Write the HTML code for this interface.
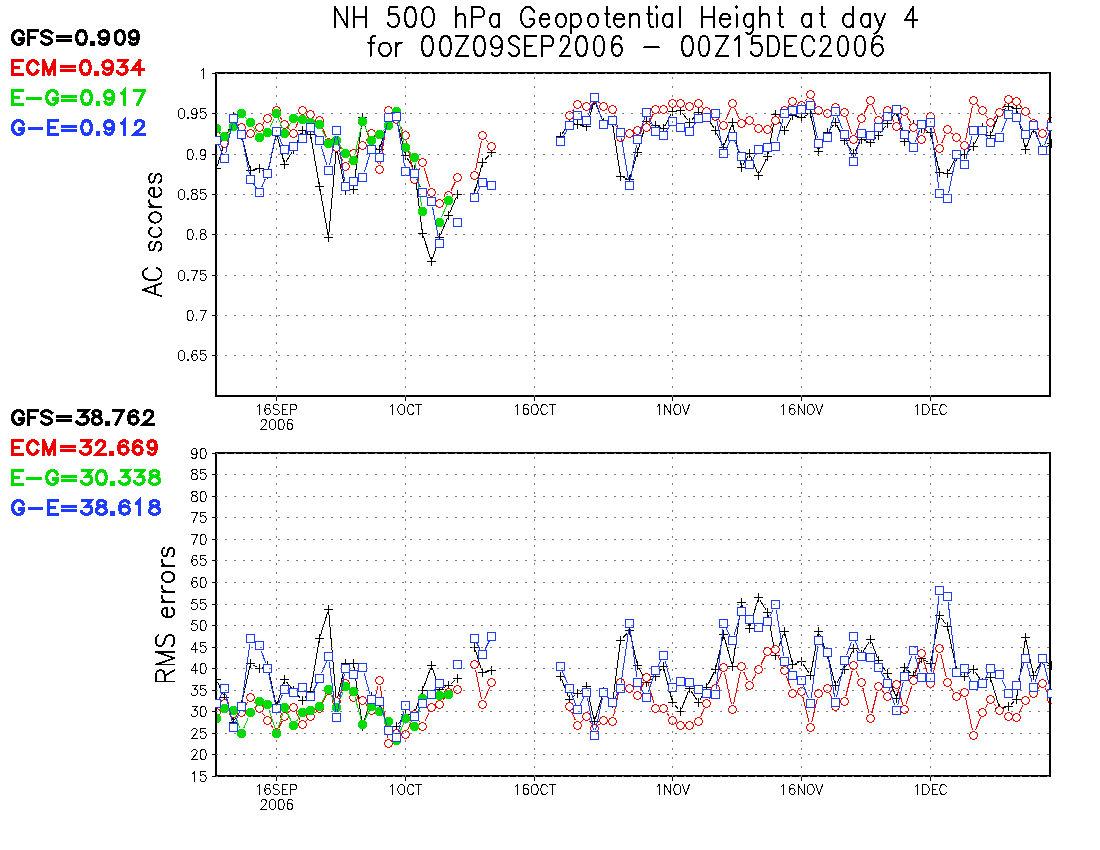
<!DOCTYPE html><html><head><meta charset="utf-8"><title>NH 500 hPa Geopotential Height</title>
<style>html,body{margin:0;padding:0;background:#fff;font-family:"Liberation Sans",sans-serif}svg{display:block}.t{fill:none;stroke-linecap:round;stroke-linejoin:round;shape-rendering:crispEdges}</style></head><body>
<svg width="1100" height="850" viewBox="0 0 1100 850">
<rect width="1100" height="850" fill="#fff"/>
<path class="t" d="M335.00 7.00 L335.00 27.00 M335.00 7.00 L347.00 27.00 M347.00 7.00 L347.00 27.00 M354.00 7.00 L354.00 27.00 M366.00 7.00 L366.00 27.00 M354.00 16.52 L366.00 16.52 M397.43 7.00 L389.57 7.00 L388.79 15.57 L389.57 14.62 L391.93 13.67 L394.29 13.67 L396.64 14.62 L398.21 16.52 L399.00 19.38 L399.00 21.29 L398.21 24.14 L396.64 26.05 L394.29 27.00 L391.93 27.00 L389.57 26.05 L388.79 25.10 L388.00 23.19 M409.71 7.00 L407.36 7.95 L405.79 10.81 L405.00 15.57 L405.00 18.43 L405.79 23.19 L407.36 26.05 L409.71 27.00 L411.29 27.00 L413.64 26.05 L415.21 23.19 L416.00 18.43 L416.00 15.57 L415.21 10.81 L413.64 7.95 L411.29 7.00 L409.71 7.00 M427.14 7.00 L424.57 7.95 L422.86 10.81 L422.00 15.57 L422.00 18.43 L422.86 23.19 L424.57 26.05 L427.14 27.00 L428.86 27.00 L431.43 26.05 L433.14 23.19 L434.00 18.43 L434.00 15.57 L433.14 10.81 L431.43 7.95 L428.86 7.00 L427.14 7.00 M456.00 7.00 L456.00 27.00 M456.00 17.48 L458.45 14.62 L460.09 13.67 L462.55 13.67 L464.18 14.62 L465.00 17.48 L465.00 27.00 M472.00 7.00 L472.00 27.00 M472.00 7.00 L479.71 7.00 L482.29 7.95 L483.14 8.90 L484.00 10.81 L484.00 13.67 L483.14 15.57 L482.29 16.52 L479.71 17.48 L472.00 17.48 M499.00 13.67 L499.00 27.00 M499.00 16.52 L497.50 14.62 L496.00 13.67 L493.75 13.67 L492.25 14.62 L490.75 16.52 L490.00 19.38 L490.00 21.29 L490.75 24.14 L492.25 26.05 L493.75 27.00 L496.00 27.00 L497.50 26.05 L499.00 24.14 M534.00 11.76 L533.13 9.86 L531.40 7.95 L529.67 7.00 L526.20 7.00 L524.47 7.95 L522.73 9.86 L521.87 11.76 L521.00 14.62 L521.00 19.38 L521.87 22.24 L522.73 24.14 L524.47 26.05 L526.20 27.00 L529.67 27.00 L531.40 26.05 L533.13 24.14 L534.00 22.24 L534.00 19.38 M529.67 19.38 L534.00 19.38 M540.00 19.38 L549.00 19.38 L549.00 17.48 L548.25 15.57 L547.50 14.62 L546.00 13.67 L543.75 13.67 L542.25 14.62 L540.75 16.52 L540.00 19.38 L540.00 21.29 L540.75 24.14 L542.25 26.05 L543.75 27.00 L546.00 27.00 L547.50 26.05 L549.00 24.14 M559.85 13.67 L558.31 14.62 L556.77 16.52 L556.00 19.38 L556.00 21.29 L556.77 24.14 L558.31 26.05 L559.85 27.00 L562.15 27.00 L563.69 26.05 L565.23 24.14 L566.00 21.29 L566.00 19.38 L565.23 16.52 L563.69 14.62 L562.15 13.67 L559.85 13.67 M571.00 13.67 L571.00 33.67 M571.00 16.52 L572.67 14.62 L574.33 13.67 L576.83 13.67 L578.50 14.62 L580.17 16.52 L581.00 19.38 L581.00 21.29 L580.17 24.14 L578.50 26.05 L576.83 27.00 L574.33 27.00 L572.67 26.05 L571.00 24.14 M591.85 13.67 L590.31 14.62 L588.77 16.52 L588.00 19.38 L588.00 21.29 L588.77 24.14 L590.31 26.05 L591.85 27.00 L594.15 27.00 L595.69 26.05 L597.23 24.14 L598.00 21.29 L598.00 19.38 L597.23 16.52 L595.69 14.62 L594.15 13.67 L591.85 13.67 M606.88 7.00 L606.88 23.19 L607.50 26.05 L608.75 27.00 L610.00 27.00 M605.00 13.67 L609.38 13.67 M614.00 19.38 L624.00 19.38 L624.00 17.48 L623.17 15.57 L622.33 14.62 L620.67 13.67 L618.17 13.67 L616.50 14.62 L614.83 16.52 L614.00 19.38 L614.00 21.29 L614.83 24.14 L616.50 26.05 L618.17 27.00 L620.67 27.00 L622.33 26.05 L624.00 24.14 M630.00 13.67 L630.00 27.00 M630.00 17.48 L632.45 14.62 L634.09 13.67 L636.55 13.67 L638.18 14.62 L639.00 17.48 L639.00 27.00 M649.25 7.00 L649.25 23.19 L650.00 26.05 L651.50 27.00 L653.00 27.00 M647.00 13.67 L652.25 13.67 M656.00 7.00 L656.50 7.95 L657.00 7.00 L656.50 6.05 L656.00 7.00 M656.50 13.67 L656.50 27.00 M672.00 13.67 L672.00 27.00 M672.00 16.52 L670.50 14.62 L669.00 13.67 L666.75 13.67 L665.25 14.62 L663.75 16.52 L663.00 19.38 L663.00 21.29 L663.75 24.14 L665.25 26.05 L666.75 27.00 L669.00 27.00 L670.50 26.05 L672.00 24.14 M680.00 7.00 L680.00 27.00 M702.00 7.00 L702.00 27.00 M714.00 7.00 L714.00 27.00 M702.00 16.52 L714.00 16.52 M720.00 19.38 L730.00 19.38 L730.00 17.48 L729.17 15.57 L728.33 14.62 L726.67 13.67 L724.17 13.67 L722.50 14.62 L720.83 16.52 L720.00 19.38 L720.00 21.29 L720.83 24.14 L722.50 26.05 L724.17 27.00 L726.67 27.00 L728.33 26.05 L730.00 24.14 M736.00 7.00 L736.50 7.95 L737.00 7.00 L736.50 6.05 L736.00 7.00 M736.50 13.67 L736.50 27.00 M753.00 13.67 L753.00 28.90 L752.25 31.76 L751.50 32.71 L750.00 33.67 L747.75 33.67 L746.25 32.71 M753.00 16.52 L751.50 14.62 L750.00 13.67 L747.75 13.67 L746.25 14.62 L744.75 16.52 L744.00 19.38 L744.00 21.29 L744.75 24.14 L746.25 26.05 L747.75 27.00 L750.00 27.00 L751.50 26.05 L753.00 24.14 M760.00 7.00 L760.00 27.00 M760.00 17.48 L762.45 14.62 L764.09 13.67 L766.55 13.67 L768.18 14.62 L769.00 17.48 L769.00 27.00 M779.88 7.00 L779.88 23.19 L780.50 26.05 L781.75 27.00 L783.00 27.00 M778.00 13.67 L782.38 13.67 M811.00 13.67 L811.00 27.00 M811.00 16.52 L809.50 14.62 L808.00 13.67 L805.75 13.67 L804.25 14.62 L802.75 16.52 L802.00 19.38 L802.00 21.29 L802.75 24.14 L804.25 26.05 L805.75 27.00 L808.00 27.00 L809.50 26.05 L811.00 24.14 M821.88 7.00 L821.88 23.19 L822.50 26.05 L823.75 27.00 L825.00 27.00 M820.00 13.67 L824.38 13.67 M853.00 7.00 L853.00 27.00 M853.00 16.52 L851.33 14.62 L849.67 13.67 L847.17 13.67 L845.50 14.62 L843.83 16.52 L843.00 19.38 L843.00 21.29 L843.83 24.14 L845.50 26.05 L847.17 27.00 L849.67 27.00 L851.33 26.05 L853.00 24.14 M870.00 13.67 L870.00 27.00 M870.00 16.52 L868.50 14.62 L867.00 13.67 L864.75 13.67 L863.25 14.62 L861.75 16.52 L861.00 19.38 L861.00 21.29 L861.75 24.14 L863.25 26.05 L864.75 27.00 L867.00 27.00 L868.50 26.05 L870.00 24.14 M874.85 13.67 L879.92 27.00 M885.00 13.67 L879.92 27.00 L878.23 30.81 L876.54 32.71 L874.85 33.67 L874.00 33.67 M913.00 7.00 L905.00 20.33 L917.00 20.33 M913.00 7.00 L913.00 27.00" stroke="#000" stroke-width="2.0"/>
<path class="t" d="M375.00 36.00 L373.25 36.00 L371.50 36.95 L370.62 39.81 L370.62 56.00 M368.00 42.67 L374.12 42.67 M383.62 42.67 L381.77 43.62 L379.92 45.52 L379.00 48.38 L379.00 50.29 L379.92 53.14 L381.77 55.05 L383.62 56.00 L386.38 56.00 L388.23 55.05 L390.08 53.14 L391.00 50.29 L391.00 48.38 L390.08 45.52 L388.23 43.62 L386.38 42.67 L383.62 42.67 M396.00 42.67 L396.00 56.00 M396.00 48.38 L396.75 45.52 L398.25 43.62 L399.75 42.67 L402.00 42.67 M426.71 36.00 L424.36 36.95 L422.79 39.81 L422.00 44.57 L422.00 47.43 L422.79 52.19 L424.36 55.05 L426.71 56.00 L428.29 56.00 L430.64 55.05 L432.21 52.19 L433.00 47.43 L433.00 44.57 L432.21 39.81 L430.64 36.95 L428.29 36.00 L426.71 36.00 M444.71 36.00 L442.36 36.95 L440.79 39.81 L440.00 44.57 L440.00 47.43 L440.79 52.19 L442.36 55.05 L444.71 56.00 L446.29 56.00 L448.64 55.05 L450.21 52.19 L451.00 47.43 L451.00 44.57 L450.21 39.81 L448.64 36.95 L446.29 36.00 L444.71 36.00 M468.00 36.00 L456.00 56.00 M456.00 36.00 L468.00 36.00 M456.00 56.00 L468.00 56.00 M478.71 36.00 L476.36 36.95 L474.79 39.81 L474.00 44.57 L474.00 47.43 L474.79 52.19 L476.36 55.05 L478.71 56.00 L480.29 56.00 L482.64 55.05 L484.21 52.19 L485.00 47.43 L485.00 44.57 L484.21 39.81 L482.64 36.95 L480.29 36.00 L478.71 36.00 M502.00 42.67 L501.15 45.52 L499.46 47.43 L496.92 48.38 L496.08 48.38 L493.54 47.43 L491.85 45.52 L491.00 42.67 L491.00 41.71 L491.85 38.86 L493.54 36.95 L496.08 36.00 L496.92 36.00 L499.46 36.95 L501.15 38.86 L502.00 42.67 L502.00 47.43 L501.15 52.19 L499.46 55.05 L496.92 56.00 L495.23 56.00 L492.69 55.05 L491.85 53.14 M519.00 38.86 L517.57 36.95 L515.43 36.00 L512.57 36.00 L510.43 36.95 L509.00 38.86 L509.00 40.76 L509.71 42.67 L510.43 43.62 L511.86 44.57 L516.14 46.48 L517.57 47.43 L518.29 48.38 L519.00 50.29 L519.00 53.14 L517.57 55.05 L515.43 56.00 L512.57 56.00 L510.43 55.05 L509.00 53.14 M525.00 36.00 L525.00 56.00 M525.00 36.00 L536.00 36.00 M525.00 45.52 L531.77 45.52 M525.00 56.00 L536.00 56.00 M542.00 36.00 L542.00 56.00 M542.00 36.00 L549.07 36.00 L551.43 36.95 L552.21 37.90 L553.00 39.81 L553.00 42.67 L552.21 44.57 L551.43 45.52 L549.07 46.48 L542.00 46.48 M560.71 40.76 L560.71 39.81 L561.43 37.90 L562.14 36.95 L563.57 36.00 L566.43 36.00 L567.86 36.95 L568.57 37.90 L569.29 39.81 L569.29 41.71 L568.57 43.62 L567.14 46.48 L560.00 56.00 L570.00 56.00 M580.71 36.00 L578.36 36.95 L576.79 39.81 L576.00 44.57 L576.00 47.43 L576.79 52.19 L578.36 55.05 L580.71 56.00 L582.29 56.00 L584.64 55.05 L586.21 52.19 L587.00 47.43 L587.00 44.57 L586.21 39.81 L584.64 36.95 L582.29 36.00 L580.71 36.00 M598.29 36.00 L596.14 36.95 L594.71 39.81 L594.00 44.57 L594.00 47.43 L594.71 52.19 L596.14 55.05 L598.29 56.00 L599.71 56.00 L601.86 55.05 L603.29 52.19 L604.00 47.43 L604.00 44.57 L603.29 39.81 L601.86 36.95 L599.71 36.00 L598.29 36.00 M621.23 38.86 L620.46 36.95 L618.15 36.00 L616.62 36.00 L614.31 36.95 L612.77 39.81 L612.00 44.57 L612.00 49.33 L612.77 53.14 L614.31 55.05 L616.62 56.00 L617.38 56.00 L619.69 55.05 L621.23 53.14 L622.00 50.29 L622.00 49.33 L621.23 46.48 L619.69 44.57 L617.38 43.62 L616.62 43.62 L614.31 44.57 L612.77 46.48 L612.00 49.33 M644.00 47.43 L659.00 47.43 M686.71 36.00 L684.36 36.95 L682.79 39.81 L682.00 44.57 L682.00 47.43 L682.79 52.19 L684.36 55.05 L686.71 56.00 L688.29 56.00 L690.64 55.05 L692.21 52.19 L693.00 47.43 L693.00 44.57 L692.21 39.81 L690.64 36.95 L688.29 36.00 L686.71 36.00 M703.29 36.00 L701.14 36.95 L699.71 39.81 L699.00 44.57 L699.00 47.43 L699.71 52.19 L701.14 55.05 L703.29 56.00 L704.71 56.00 L706.86 55.05 L708.29 52.19 L709.00 47.43 L709.00 44.57 L708.29 39.81 L706.86 36.95 L704.71 36.00 L703.29 36.00 M728.00 36.00 L716.00 56.00 M716.00 36.00 L728.00 36.00 M716.00 56.00 L728.00 56.00 M735.00 39.81 L736.60 38.86 L739.00 36.00 L739.00 56.00 M760.43 36.00 L752.57 36.00 L751.79 44.57 L752.57 43.62 L754.93 42.67 L757.29 42.67 L759.64 43.62 L761.21 45.52 L762.00 48.38 L762.00 50.29 L761.21 53.14 L759.64 55.05 L757.29 56.00 L754.93 56.00 L752.57 55.05 L751.79 54.10 L751.00 52.19 M768.00 36.00 L768.00 56.00 M768.00 36.00 L773.50 36.00 L775.86 36.95 L777.43 38.86 L778.21 40.76 L779.00 43.62 L779.00 48.38 L778.21 51.24 L777.43 53.14 L775.86 55.05 L773.50 56.00 L768.00 56.00 M785.00 36.00 L785.00 56.00 M785.00 36.00 L796.00 36.00 M785.00 45.52 L791.77 45.52 M785.00 56.00 L796.00 56.00 M814.00 40.76 L813.20 38.86 L811.60 36.95 L810.00 36.00 L806.80 36.00 L805.20 36.95 L803.60 38.86 L802.80 40.76 L802.00 43.62 L802.00 48.38 L802.80 51.24 L803.60 53.14 L805.20 55.05 L806.80 56.00 L810.00 56.00 L811.60 55.05 L813.20 53.14 L814.00 51.24 M820.79 40.76 L820.79 39.81 L821.57 37.90 L822.36 36.95 L823.93 36.00 L827.07 36.00 L828.64 36.95 L829.43 37.90 L830.21 39.81 L830.21 41.71 L829.43 43.62 L827.86 46.48 L820.00 56.00 L831.00 56.00 M842.29 36.00 L840.14 36.95 L838.71 39.81 L838.00 44.57 L838.00 47.43 L838.71 52.19 L840.14 55.05 L842.29 56.00 L843.71 56.00 L845.86 55.05 L847.29 52.19 L848.00 47.43 L848.00 44.57 L847.29 39.81 L845.86 36.95 L843.71 36.00 L842.29 36.00 M859.29 36.00 L857.14 36.95 L855.71 39.81 L855.00 44.57 L855.00 47.43 L855.71 52.19 L857.14 55.05 L859.29 56.00 L860.71 56.00 L862.86 55.05 L864.29 52.19 L865.00 47.43 L865.00 44.57 L864.29 39.81 L862.86 36.95 L860.71 36.00 L859.29 36.00 M882.15 38.86 L881.31 36.95 L878.77 36.00 L877.08 36.00 L874.54 36.95 L872.85 39.81 L872.00 44.57 L872.00 49.33 L872.85 53.14 L874.54 55.05 L877.08 56.00 L877.92 56.00 L880.46 55.05 L882.15 53.14 L883.00 50.29 L883.00 49.33 L882.15 46.48 L880.46 44.57 L877.92 43.62 L877.08 43.62 L874.54 44.57 L872.85 46.48 L872.00 49.33" stroke="#000" stroke-width="2.0"/>
<rect x="89.9" y="41.3" width="4.9" height="4.6" fill="#000" shape-rendering="crispEdges"/>
<path d="M23.35 33.96 L22.64 32.68 L21.21 31.39 L19.78 30.75 L16.93 30.75 L15.50 31.39 L14.08 32.68 L13.36 33.96 L12.65 35.89 L12.65 39.11 L13.36 41.04 L14.08 42.32 L15.50 43.61 L16.93 44.25 L19.78 44.25 L21.21 43.61 L22.64 42.32 L23.35 41.04 L23.35 39.11 M19.78 39.11 L23.35 39.11 M28.65 30.75 L28.65 44.25 M28.65 30.75 L37.15 30.75 M28.65 37.18 L33.88 37.18 M51.35 32.68 L49.98 31.39 L47.92 30.75 L45.18 30.75 L43.12 31.39 L41.75 32.68 L41.75 33.96 L42.44 35.25 L43.12 35.89 L44.49 36.54 L48.61 37.82 L49.98 38.46 L50.66 39.11 L51.35 40.39 L51.35 42.32 L49.98 43.61 L47.92 44.25 L45.18 44.25 L43.12 43.61 L41.75 42.32 M57.75 36.54 L70.25 36.54 M57.75 40.39 L70.25 40.39 M80.76 30.75 L78.71 31.39 L77.34 33.32 L76.65 36.54 L76.65 38.46 L77.34 41.68 L78.71 43.61 L80.76 44.25 L82.14 44.25 L84.19 43.61 L85.56 41.68 L86.25 38.46 L86.25 36.54 L85.56 33.32 L84.19 31.39 L82.14 30.75 L80.76 30.75 M108.45 35.25 L107.71 37.18 L106.23 38.46 L104.02 39.11 L103.28 39.11 L101.07 38.46 L99.59 37.18 L98.85 35.25 L98.85 34.61 L99.59 32.68 L101.07 31.39 L103.28 30.75 L104.02 30.75 L106.23 31.39 L107.71 32.68 L108.45 35.25 L108.45 38.46 L107.71 41.68 L106.23 43.61 L104.02 44.25 L102.54 44.25 L100.33 43.61 L99.59 42.32 M119.19 30.75 L117.22 31.39 L115.91 33.32 L115.25 36.54 L115.25 38.46 L115.91 41.68 L117.22 43.61 L119.19 44.25 L120.51 44.25 L122.48 43.61 L123.79 41.68 L124.45 38.46 L124.45 36.54 L123.79 33.32 L122.48 31.39 L120.51 30.75 L119.19 30.75 M138.25 35.25 L137.57 37.18 L136.20 38.46 L134.14 39.11 L133.46 39.11 L131.40 38.46 L130.03 37.18 L129.35 35.25 L129.35 34.61 L130.03 32.68 L131.40 31.39 L133.46 30.75 L134.14 30.75 L136.20 31.39 L137.57 32.68 L138.25 35.25 L138.25 38.46 L137.57 41.68 L136.20 43.61 L134.14 44.25 L132.77 44.25 L130.72 43.61 L130.03 42.32" fill="none" stroke="#000" stroke-width="3.25" stroke-linecap="square" stroke-linejoin="miter" shape-rendering="crispEdges"/>
<rect x="93.9" y="71.3" width="5.2" height="4.6" fill="#ee0000" shape-rendering="crispEdges"/>
<path d="M12.65 60.75 L12.65 74.25 M12.65 60.75 L22.25 60.75 M12.65 67.18 L18.56 67.18 M12.65 74.25 L22.25 74.25 M37.55 63.96 L36.90 62.68 L35.59 61.39 L34.28 60.75 L31.67 60.75 L30.36 61.39 L29.06 62.68 L28.40 63.96 L27.75 65.89 L27.75 69.11 L28.40 71.04 L29.06 72.32 L30.36 73.61 L31.67 74.25 L34.28 74.25 L35.59 73.61 L36.90 72.32 L37.55 71.04 M43.75 60.75 L43.75 74.25 M43.75 60.75 L49.00 74.25 M54.25 60.75 L49.00 74.25 M54.25 60.75 L54.25 74.25 M61.75 66.54 L74.25 66.54 M61.75 70.39 L74.25 70.39 M84.76 60.75 L82.71 61.39 L81.34 63.32 L80.65 66.54 L80.65 68.46 L81.34 71.68 L82.71 73.61 L84.76 74.25 L86.14 74.25 L88.19 73.61 L89.56 71.68 L90.25 68.46 L90.25 66.54 L89.56 63.32 L88.19 61.39 L86.14 60.75 L84.76 60.75 M112.45 65.25 L111.71 67.18 L110.23 68.46 L108.02 69.11 L107.28 69.11 L105.07 68.46 L103.59 67.18 L102.85 65.25 L102.85 64.61 L103.59 62.68 L105.07 61.39 L107.28 60.75 L108.02 60.75 L110.23 61.39 L111.71 62.68 L112.45 65.25 L112.45 68.46 L111.71 71.68 L110.23 73.61 L108.02 74.25 L106.54 74.25 L104.33 73.61 L103.59 72.32 M119.06 60.75 L126.29 60.75 L122.35 65.89 L124.32 65.89 L125.64 66.54 L126.29 67.18 L126.95 69.11 L126.95 70.39 L126.29 72.32 L124.98 73.61 L123.01 74.25 L121.04 74.25 L119.06 73.61 L118.41 72.96 L117.75 71.68 M139.52 60.75 L132.65 69.75 L142.95 69.75 M139.52 60.75 L139.52 74.25" fill="none" stroke="#ee0000" stroke-width="3.25" stroke-linecap="square" stroke-linejoin="miter" shape-rendering="crispEdges"/>
<rect x="96.1" y="101.3" width="3.8" height="4.6" fill="#00dc00" shape-rendering="crispEdges"/>
<path d="M12.65 90.75 L12.65 104.25 M12.65 90.75 L22.25 90.75 M12.65 97.18 L18.56 97.18 M12.65 104.25 L22.25 104.25 M27.75 98.46 L40.25 98.46 M57.15 93.96 L56.46 92.68 L55.09 91.39 L53.72 90.75 L50.97 90.75 L49.60 91.39 L48.22 92.68 L47.54 93.96 L46.85 95.89 L46.85 99.11 L47.54 101.04 L48.22 102.32 L49.60 103.61 L50.97 104.25 L53.72 104.25 L55.09 103.61 L56.46 102.32 L57.15 101.04 L57.15 99.11 M53.72 99.11 L57.15 99.11 M62.85 96.54 L75.35 96.54 M62.85 100.39 L75.35 100.39 M85.86 90.75 L83.81 91.39 L82.44 93.32 L81.75 96.54 L81.75 98.46 L82.44 101.68 L83.81 103.61 L85.86 104.25 L87.24 104.25 L89.29 103.61 L90.66 101.68 L91.35 98.46 L91.35 96.54 L90.66 93.32 L89.29 91.39 L87.24 90.75 L85.86 90.75 M113.35 95.25 L112.68 97.18 L111.34 98.46 L109.33 99.11 L108.67 99.11 L106.66 98.46 L105.32 97.18 L104.65 95.25 L104.65 94.61 L105.32 92.68 L106.66 91.39 L108.67 90.75 L109.33 90.75 L111.34 91.39 L112.68 92.68 L113.35 95.25 L113.35 98.46 L112.68 101.68 L111.34 103.61 L109.33 104.25 L108.00 104.25 L105.99 103.61 L105.32 102.32 M121.75 93.32 L122.83 92.68 L124.45 90.75 L124.45 104.25 M144.45 90.75 L137.59 104.25 M134.85 90.75 L144.45 90.75" fill="none" stroke="#00dc00" stroke-width="3.25" stroke-linecap="square" stroke-linejoin="miter" shape-rendering="crispEdges"/>
<rect x="96.1" y="131.3" width="3.8" height="4.6" fill="#1e3cff" shape-rendering="crispEdges"/>
<path d="M23.35 123.96 L22.64 122.68 L21.21 121.39 L19.78 120.75 L16.93 120.75 L15.50 121.39 L14.08 122.68 L13.36 123.96 L12.65 125.89 L12.65 129.11 L13.36 131.04 L14.08 132.32 L15.50 133.61 L16.93 134.25 L19.78 134.25 L21.21 133.61 L22.64 132.32 L23.35 131.04 L23.35 129.11 M19.78 129.11 L23.35 129.11 M29.75 128.46 L41.15 128.46 M48.85 120.75 L48.85 134.25 M48.85 120.75 L57.15 120.75 M48.85 127.18 L53.96 127.18 M48.85 134.25 L57.15 134.25 M62.85 126.54 L75.25 126.54 M62.85 130.39 L75.25 130.39 M85.86 120.75 L83.81 121.39 L82.44 123.32 L81.75 126.54 L81.75 128.46 L82.44 131.68 L83.81 133.61 L85.86 134.25 L87.24 134.25 L89.29 133.61 L90.66 131.68 L91.35 128.46 L91.35 126.54 L90.66 123.32 L89.29 121.39 L87.24 120.75 L85.86 120.75 M113.35 125.25 L112.68 127.18 L111.34 128.46 L109.33 129.11 L108.67 129.11 L106.66 128.46 L105.32 127.18 L104.65 125.25 L104.65 124.61 L105.32 122.68 L106.66 121.39 L108.67 120.75 L109.33 120.75 L111.34 121.39 L112.68 122.68 L113.35 125.25 L113.35 128.46 L112.68 131.68 L111.34 133.61 L109.33 134.25 L108.00 134.25 L105.99 133.61 L105.32 132.32 M121.75 123.32 L122.83 122.68 L124.45 120.75 L124.45 134.25 M135.54 123.96 L135.54 123.32 L136.22 122.04 L136.91 121.39 L138.28 120.75 L141.02 120.75 L142.39 121.39 L143.08 122.04 L143.76 123.32 L143.76 124.61 L143.08 125.89 L141.71 127.82 L134.85 134.25 L144.45 134.25" fill="none" stroke="#1e3cff" stroke-width="3.25" stroke-linecap="square" stroke-linejoin="miter" shape-rendering="crispEdges"/>
<rect x="104.9" y="421.3" width="5.2" height="4.6" fill="#000" shape-rendering="crispEdges"/>
<path d="M23.35 413.96 L22.64 412.68 L21.21 411.39 L19.78 410.75 L16.93 410.75 L15.50 411.39 L14.08 412.68 L13.36 413.96 L12.65 415.89 L12.65 419.11 L13.36 421.04 L14.08 422.32 L15.50 423.61 L16.93 424.25 L19.78 424.25 L21.21 423.61 L22.64 422.32 L23.35 421.04 L23.35 419.11 M19.78 419.11 L23.35 419.11 M28.65 410.75 L28.65 424.25 M28.65 410.75 L37.15 410.75 M28.65 417.18 L33.88 417.18 M51.35 412.68 L49.98 411.39 L47.92 410.75 L45.18 410.75 L43.12 411.39 L41.75 412.68 L41.75 413.96 L42.44 415.25 L43.12 415.89 L44.49 416.54 L48.61 417.82 L49.98 418.46 L50.66 419.11 L51.35 420.39 L51.35 422.32 L49.98 423.61 L47.92 424.25 L45.18 424.25 L43.12 423.61 L41.75 422.32 M57.75 416.54 L70.25 416.54 M57.75 420.39 L70.25 420.39 M78.36 410.75 L87.24 410.75 L82.40 415.89 L84.82 415.89 L86.44 416.54 L87.24 417.18 L88.05 419.11 L88.05 420.39 L87.24 422.32 L85.63 423.61 L83.21 424.25 L80.79 424.25 L78.36 423.61 L77.56 422.96 L76.75 421.68 M95.59 410.75 L93.71 411.39 L93.08 412.68 L93.08 413.96 L93.71 415.25 L94.96 415.89 L97.48 416.54 L99.36 417.18 L100.62 418.46 L101.25 419.75 L101.25 421.68 L100.62 422.96 L99.99 423.61 L98.11 424.25 L95.59 424.25 L93.71 423.61 L93.08 422.96 L92.45 421.68 L92.45 419.75 L93.08 418.46 L94.34 417.18 L96.22 416.54 L98.74 415.89 L99.99 415.25 L100.62 413.96 L100.62 412.68 L99.99 411.39 L98.11 410.75 L95.59 410.75 M123.05 410.75 L116.12 424.25 M113.35 410.75 L123.05 410.75 M137.34 412.68 L136.63 411.39 L134.51 410.75 L133.10 410.75 L130.97 411.39 L129.56 413.32 L128.85 416.54 L128.85 419.75 L129.56 422.32 L130.97 423.61 L133.10 424.25 L133.80 424.25 L135.93 423.61 L137.34 422.32 L138.05 420.39 L138.05 419.75 L137.34 417.82 L135.93 416.54 L133.80 415.89 L133.10 415.89 L130.97 416.54 L129.56 417.82 L128.85 419.75 M144.54 413.96 L144.54 413.32 L145.24 412.04 L145.93 411.39 L147.31 410.75 L150.09 410.75 L151.47 411.39 L152.16 412.04 L152.86 413.32 L152.86 414.61 L152.16 415.89 L150.78 417.82 L143.85 424.25 L153.55 424.25" fill="none" stroke="#000" stroke-width="3.25" stroke-linecap="square" stroke-linejoin="miter" shape-rendering="crispEdges"/>
<rect x="109.0" y="451.3" width="4.8" height="4.6" fill="#ee0000" shape-rendering="crispEdges"/>
<path d="M12.65 440.75 L12.65 454.25 M12.65 440.75 L22.25 440.75 M12.65 447.18 L18.56 447.18 M12.65 454.25 L22.25 454.25 M37.55 443.96 L36.90 442.68 L35.59 441.39 L34.28 440.75 L31.67 440.75 L30.36 441.39 L29.06 442.68 L28.40 443.96 L27.75 445.89 L27.75 449.11 L28.40 451.04 L29.06 452.32 L30.36 453.61 L31.67 454.25 L34.28 454.25 L35.59 453.61 L36.90 452.32 L37.55 451.04 M43.75 440.75 L43.75 454.25 M43.75 440.75 L49.00 454.25 M54.25 440.75 L49.00 454.25 M54.25 440.75 L54.25 454.25 M61.75 446.54 L74.25 446.54 M61.75 450.39 L74.25 450.39 M82.09 440.75 L90.03 440.75 L85.70 445.89 L87.86 445.89 L89.31 446.54 L90.03 447.18 L90.75 449.11 L90.75 450.39 L90.03 452.32 L88.59 453.61 L86.42 454.25 L84.26 454.25 L82.09 453.61 L81.37 452.96 L80.65 451.68 M96.81 443.96 L96.81 443.32 L97.46 442.04 L98.12 441.39 L99.44 440.75 L102.06 440.75 L103.38 441.39 L104.04 442.04 L104.69 443.32 L104.69 444.61 L104.04 445.89 L102.72 447.82 L96.15 454.25 L105.35 454.25 M127.34 442.68 L126.63 441.39 L124.51 440.75 L123.10 440.75 L120.97 441.39 L119.56 443.32 L118.85 446.54 L118.85 449.75 L119.56 452.32 L120.97 453.61 L123.10 454.25 L123.80 454.25 L125.93 453.61 L127.34 452.32 L128.05 450.39 L128.05 449.75 L127.34 447.82 L125.93 446.54 L123.80 445.89 L123.10 445.89 L120.97 446.54 L119.56 447.82 L118.85 449.75 M141.47 442.68 L140.80 441.39 L138.77 440.75 L137.41 440.75 L135.38 441.39 L134.03 443.32 L133.35 446.54 L133.35 449.75 L134.03 452.32 L135.38 453.61 L137.41 454.25 L138.09 454.25 L140.12 453.61 L141.47 452.32 L142.15 450.39 L142.15 449.75 L141.47 447.82 L140.12 446.54 L138.09 445.89 L137.41 445.89 L135.38 446.54 L134.03 447.82 L133.35 449.75 M156.25 445.25 L155.61 447.18 L154.33 448.46 L152.42 449.11 L151.78 449.11 L149.87 448.46 L148.59 447.18 L147.95 445.25 L147.95 444.61 L148.59 442.68 L149.87 441.39 L151.78 440.75 L152.42 440.75 L154.33 441.39 L155.61 442.68 L156.25 445.25 L156.25 448.46 L155.61 451.68 L154.33 453.61 L152.42 454.25 L151.14 454.25 L149.23 453.61 L148.59 452.32" fill="none" stroke="#ee0000" stroke-width="3.25" stroke-linecap="square" stroke-linejoin="miter" shape-rendering="crispEdges"/>
<rect x="110.4" y="481.3" width="4.8" height="4.6" fill="#00dc00" shape-rendering="crispEdges"/>
<path d="M12.65 470.75 L12.65 484.25 M12.65 470.75 L22.25 470.75 M12.65 477.18 L18.56 477.18 M12.65 484.25 L22.25 484.25 M27.75 478.46 L40.25 478.46 M57.15 473.96 L56.46 472.68 L55.09 471.39 L53.72 470.75 L50.97 470.75 L49.60 471.39 L48.22 472.68 L47.54 473.96 L46.85 475.89 L46.85 479.11 L47.54 481.04 L48.22 482.32 L49.60 483.61 L50.97 484.25 L53.72 484.25 L55.09 483.61 L56.46 482.32 L57.15 481.04 L57.15 479.11 M53.72 479.11 L57.15 479.11 M62.85 476.54 L75.35 476.54 M62.85 480.39 L75.35 480.39 M83.01 470.75 L91.02 470.75 L86.65 475.89 L88.84 475.89 L90.29 476.54 L91.02 477.18 L91.75 479.11 L91.75 480.39 L91.02 482.32 L89.56 483.61 L87.38 484.25 L85.19 484.25 L83.01 483.61 L82.28 482.96 L81.55 481.68 M100.71 470.75 L98.63 471.39 L97.24 473.32 L96.55 476.54 L96.55 478.46 L97.24 481.68 L98.63 483.61 L100.71 484.25 L102.09 484.25 L104.17 483.61 L105.56 481.68 L106.25 478.46 L106.25 476.54 L105.56 473.32 L104.17 471.39 L102.09 470.75 L100.71 470.75 M121.14 470.75 L128.76 470.75 L124.60 475.89 L126.68 475.89 L128.06 476.54 L128.76 477.18 L129.45 479.11 L129.45 480.39 L128.76 482.32 L127.37 483.61 L125.29 484.25 L123.21 484.25 L121.14 483.61 L120.44 482.96 L119.75 481.68 M136.06 470.75 L143.29 470.75 L139.35 475.89 L141.32 475.89 L142.64 476.54 L143.29 477.18 L143.95 479.11 L143.95 480.39 L143.29 482.32 L141.98 483.61 L140.01 484.25 L138.04 484.25 L136.06 483.61 L135.41 482.96 L134.75 481.68 M153.21 470.75 L151.14 471.39 L150.44 472.68 L150.44 473.96 L151.14 475.25 L152.52 475.89 L155.29 476.54 L157.37 477.18 L158.76 478.46 L159.45 479.75 L159.45 481.68 L158.76 482.96 L158.06 483.61 L155.99 484.25 L153.21 484.25 L151.14 483.61 L150.44 482.96 L149.75 481.68 L149.75 479.75 L150.44 478.46 L151.83 477.18 L153.91 476.54 L156.68 475.89 L158.06 475.25 L158.76 473.96 L158.76 472.68 L158.06 471.39 L155.99 470.75 L153.21 470.75" fill="none" stroke="#00dc00" stroke-width="3.25" stroke-linecap="square" stroke-linejoin="miter" shape-rendering="crispEdges"/>
<rect x="110.4" y="511.3" width="4.8" height="4.6" fill="#1e3cff" shape-rendering="crispEdges"/>
<path d="M23.35 503.96 L22.64 502.68 L21.21 501.39 L19.78 500.75 L16.93 500.75 L15.50 501.39 L14.08 502.68 L13.36 503.96 L12.65 505.89 L12.65 509.11 L13.36 511.04 L14.08 512.32 L15.50 513.61 L16.93 514.25 L19.78 514.25 L21.21 513.61 L22.64 512.32 L23.35 511.04 L23.35 509.11 M19.78 509.11 L23.35 509.11 M29.75 508.46 L41.15 508.46 M48.85 500.75 L48.85 514.25 M48.85 500.75 L57.15 500.75 M48.85 507.18 L53.96 507.18 M48.85 514.25 L57.15 514.25 M62.85 506.54 L75.25 506.54 M62.85 510.39 L75.25 510.39 M83.01 500.75 L91.02 500.75 L86.65 505.89 L88.84 505.89 L90.29 506.54 L91.02 507.18 L91.75 509.11 L91.75 510.39 L91.02 512.32 L89.56 513.61 L87.38 514.25 L85.19 514.25 L83.01 513.61 L82.28 512.96 L81.55 511.68 M100.01 500.75 L97.94 501.39 L97.24 502.68 L97.24 503.96 L97.94 505.25 L99.32 505.89 L102.09 506.54 L104.17 507.18 L105.56 508.46 L106.25 509.75 L106.25 511.68 L105.56 512.96 L104.86 513.61 L102.79 514.25 L100.01 514.25 L97.94 513.61 L97.24 512.96 L96.55 511.68 L96.55 509.75 L97.24 508.46 L98.63 507.18 L100.71 506.54 L103.48 505.89 L104.86 505.25 L105.56 503.96 L105.56 502.68 L104.86 501.39 L102.79 500.75 L100.01 500.75 M128.70 502.68 L127.96 501.39 L125.72 500.75 L124.23 500.75 L121.99 501.39 L120.50 503.32 L119.75 506.54 L119.75 509.75 L120.50 512.32 L121.99 513.61 L124.23 514.25 L124.97 514.25 L127.21 513.61 L128.70 512.32 L129.45 510.39 L129.45 509.75 L128.70 507.82 L127.21 506.54 L124.97 505.89 L124.23 505.89 L121.99 506.54 L120.50 507.82 L119.75 509.75 M136.55 503.32 L137.71 502.68 L139.45 500.75 L139.45 514.25 M153.21 500.75 L151.14 501.39 L150.44 502.68 L150.44 503.96 L151.14 505.25 L152.52 505.89 L155.29 506.54 L157.37 507.18 L158.76 508.46 L159.45 509.75 L159.45 511.68 L158.76 512.96 L158.06 513.61 L155.99 514.25 L153.21 514.25 L151.14 513.61 L150.44 512.96 L149.75 511.68 L149.75 509.75 L150.44 508.46 L151.83 507.18 L153.91 506.54 L156.68 505.89 L158.06 505.25 L158.76 503.96 L158.76 502.68 L158.06 501.39 L155.99 500.75 L153.21 500.75" fill="none" stroke="#1e3cff" stroke-width="3.25" stroke-linecap="square" stroke-linejoin="miter" shape-rendering="crispEdges"/>
<clipPath id="c1"><rect x="215" y="72.0" width="837" height="325.0"/></clipPath>
<g clip-path="url(#c1)" shape-rendering="crispEdges">
<path d="M217.4 165.6L223.6 145.4 M225.5 139.7L232.5 119.3 M234.7 119.3L240.3 132.7 M242.2 138.4L249.8 167.6 M253.4 169.8L256.6 169.2 M261.9 170.3L265.1 172.7 M268.1 171.6L275.9 135.4 M277.2 135.4L283.8 161.6 M286.0 161.9L292.0 152.1 M294.8 146.8L301.2 133.2 M305.2 131.8L307.8 133.2 M311.0 137.5L319.0 183.5 M320.0 189.5L328.0 234.5 M328.8 234.5L336.2 150.5 M337.1 150.4L344.9 187.6 M348.5 190.1L350.5 189.9 M353.9 186.5L362.1 120.5 M363.4 120.4L370.6 143.6 M374.3 147.6L376.7 148.4 M380.4 146.6L387.6 122.4 M391.5 119.1L393.5 118.9 M397.2 121.4L404.8 152.6 M407.1 158.0L412.9 167.0 M414.9 172.5L422.1 230.5 M423.4 236.4L430.6 258.6 M432.4 258.7L438.6 240.3 M440.6 234.7L447.4 218.3 M449.7 212.7L456.3 197.3 M475.2 190.6L481.8 165.4 M484.5 160.3L489.5 154.7 M562.1 134.0L567.9 125.0 M572.4 123.2L574.6 123.8 M580.4 125.2L583.6 125.8 M587.4 123.6L593.6 103.4 M595.6 103.3L602.4 119.7 M606.5 122.5L609.5 122.5 M612.9 125.5L620.1 173.5 M623.3 177.4L626.7 178.6 M630.4 176.6L636.6 155.4 M638.3 149.6L645.7 124.4 M649.2 122.7L652.8 124.3 M658.3 126.6L660.7 127.4 M664.9 125.8L671.1 114.2 M675.5 111.1L677.5 110.9 M682.3 112.9L687.7 120.1 M691.5 120.3L696.5 114.7 M701.2 113.8L703.8 115.2 M708.1 119.0L713.9 128.0 M716.8 133.2L722.2 144.8 M724.5 144.7L731.5 125.3 M733.1 125.4L740.9 164.6 M743.0 164.9L748.0 156.1 M750.6 156.3L757.4 172.7 M759.8 172.8L766.2 159.2 M768.1 153.6L774.9 117.4 M777.0 117.1L783.0 127.9 M785.9 127.9L791.1 118.1 M795.4 116.2L798.6 116.8 M804.2 116.3L807.8 114.7 M811.1 116.4L817.9 148.6 M819.8 148.8L826.2 135.2 M829.4 130.2L833.6 124.8 M836.8 125.2L843.2 137.8 M846.2 143.0L851.8 151.0 M855.0 150.9L860.0 142.1 M864.3 140.4L867.7 141.6 M872.8 140.5L876.2 137.5 M880.3 133.1L885.7 125.9 M889.3 121.1L894.7 113.9 M897.3 114.4L903.7 138.6 M905.9 138.8L912.1 127.2 M916.2 125.8L918.8 127.2 M924.2 129.7L927.8 131.3 M931.2 135.4L938.8 169.6 M942.5 172.9L944.5 173.1 M948.9 170.8L955.1 159.2 M959.4 155.8L961.6 155.2 M966.7 152.5L971.3 148.5 M974.8 143.8L981.2 130.2 M984.6 129.6L988.4 133.4 M991.6 132.7L998.4 115.3 M1002.0 110.8L1006.0 108.2 M1011.4 107.2L1013.6 107.8 M1017.1 111.4L1024.9 146.6 M1026.6 146.7L1032.4 131.3 M1034.7 131.3L1041.3 146.7 M1045.0 147.8L1049.0 145.2" fill="none" stroke="#000" stroke-width="1" stroke-linejoin="round"/>
<path d="M212.0 168.5h9M216.5 164.0v9 M220.0 142.5h9M224.5 138.0v9 M229.0 116.5h9M233.5 112.0v9 M237.0 135.5h9M241.5 131.0v9 M246.0 170.5h9M250.5 166.0v9 M255.0 168.5h9M259.5 164.0v9 M263.0 174.5h9M267.5 170.0v9 M272.0 132.5h9M276.5 128.0v9 M280.0 164.5h9M284.5 160.0v9 M289.0 149.5h9M293.5 145.0v9 M298.0 130.5h9M302.5 126.0v9 M306.0 134.5h9M310.5 130.0v9 M315.0 186.5h9M319.5 182.0v9 M324.0 237.5h9M328.5 233.0v9 M332.0 147.5h9M336.5 143.0v9 M341.0 190.5h9M345.5 186.0v9 M349.0 189.5h9M353.5 185.0v9 M358.0 117.5h9M362.5 113.0v9 M367.0 146.5h9M371.5 142.0v9 M375.0 149.5h9M379.5 145.0v9 M384.0 119.5h9M388.5 115.0v9 M392.0 118.5h9M396.5 114.0v9 M401.0 155.5h9M405.5 151.0v9 M410.0 169.5h9M414.5 165.0v9 M418.0 233.5h9M422.5 229.0v9 M427.0 261.5h9M431.5 257.0v9 M435.0 237.5h9M439.5 233.0v9 M444.0 215.5h9M448.5 211.0v9 M453.0 194.5h9M457.5 190.0v9 M470.0 193.5h9M474.5 189.0v9 M478.0 162.5h9M482.5 158.0v9 M487.0 152.5h9M491.5 148.0v9 M556.0 136.5h9M560.5 132.0v9 M565.0 122.5h9M569.5 118.0v9 M573.0 124.5h9M577.5 120.0v9 M582.0 126.5h9M586.5 122.0v9 M590.0 100.5h9M594.5 96.0v9 M599.0 122.5h9M603.5 118.0v9 M608.0 122.5h9M612.5 118.0v9 M616.0 176.5h9M620.5 172.0v9 M625.0 179.5h9M629.5 175.0v9 M633.0 152.5h9M637.5 148.0v9 M642.0 121.5h9M646.5 117.0v9 M651.0 125.5h9M655.5 121.0v9 M659.0 128.5h9M663.5 124.0v9 M668.0 111.5h9M672.5 107.0v9 M676.0 110.5h9M680.5 106.0v9 M685.0 122.5h9M689.5 118.0v9 M694.0 112.5h9M698.5 108.0v9 M702.0 116.5h9M706.5 112.0v9 M711.0 130.5h9M715.5 126.0v9 M719.0 147.5h9M723.5 143.0v9 M728.0 122.5h9M732.5 118.0v9 M737.0 167.5h9M741.5 163.0v9 M745.0 153.5h9M749.5 149.0v9 M754.0 175.5h9M758.5 171.0v9 M763.0 156.5h9M767.5 152.0v9 M771.0 114.5h9M775.5 110.0v9 M780.0 130.5h9M784.5 126.0v9 M788.0 115.5h9M792.5 111.0v9 M797.0 117.5h9M801.5 113.0v9 M806.0 113.5h9M810.5 109.0v9 M814.0 151.5h9M818.5 147.0v9 M823.0 132.5h9M827.5 128.0v9 M831.0 122.5h9M835.5 118.0v9 M840.0 140.5h9M844.5 136.0v9 M849.0 153.5h9M853.5 149.0v9 M857.0 139.5h9M861.5 135.0v9 M866.0 142.5h9M870.5 138.0v9 M874.0 135.5h9M878.5 131.0v9 M883.0 123.5h9M887.5 119.0v9 M892.0 111.5h9M896.5 107.0v9 M900.0 141.5h9M904.5 137.0v9 M909.0 124.5h9M913.5 120.0v9 M917.0 128.5h9M921.5 124.0v9 M926.0 132.5h9M930.5 128.0v9 M935.0 172.5h9M939.5 168.0v9 M943.0 173.5h9M947.5 169.0v9 M952.0 156.5h9M956.5 152.0v9 M960.0 154.5h9M964.5 150.0v9 M969.0 146.5h9M973.5 142.0v9 M978.0 127.5h9M982.5 123.0v9 M986.0 135.5h9M990.5 131.0v9 M995.0 112.5h9M999.5 108.0v9 M1004.0 106.5h9M1008.5 102.0v9 M1012.0 108.5h9M1016.5 104.0v9 M1021.0 149.5h9M1025.5 145.0v9 M1029.0 128.5h9M1033.5 124.0v9 M1038.0 149.5h9M1042.5 145.0v9 M1047.0 143.5h9M1051.5 139.0v9" fill="none" stroke="#000" stroke-width="1"/>
</g>
<g clip-path="url(#c1)" shape-rendering="crispEdges">
<path d="M220.3 139.3L220.7 139.7 M227.0 138.7L231.0 131.3 M263.1 123.5L263.9 122.5 M271.5 114.9L272.5 114.1 M279.2 115.2L281.8 119.8 M288.3 128.3L289.7 129.7 M295.5 128.5L300.5 115.5 M321.5 125.5L326.5 137.5 M338.8 152.4L343.2 161.6 M348.3 161.9L350.7 158.1 M357.5 149.9L358.5 149.1 M365.7 141.2L368.3 137.8 M372.7 138.8L378.3 164.2 M380.3 164.2L387.7 115.8 M392.1 114.5L392.9 115.5 M399.1 124.2L402.9 130.8 M406.6 140.8L413.4 174.2 M416.8 174.6L420.2 167.4 M424.1 167.7L429.9 187.3 M434.7 196.9L436.3 199.1 M443.5 199.9L444.5 199.1 M450.9 190.7L455.1 182.3 M475.6 170.2L481.4 140.8 M485.9 139.7L488.1 142.3 M572.7 111.1L574.3 108.9 M590.3 102.7L590.7 102.3 M598.5 102.1L599.5 102.9 M614.0 114.7L619.0 132.3 M648.9 122.7L653.1 114.3 M702.3 107.3L702.7 107.7 M719.1 120.5L719.9 121.5 M725.5 120.5L730.5 108.5 M734.7 108.4L739.3 118.6 M753.5 124.1L754.5 124.9 M771.1 125.5L771.9 124.5 M779.1 116.5L780.9 114.5 M788.1 106.5L788.9 105.5 M804.9 101.3L807.1 98.7 M812.9 99.3L816.1 105.7 M846.2 117.6L851.8 134.4 M855.4 134.5L859.6 123.5 M863.9 113.7L868.1 105.3 M872.5 105.5L876.5 115.5 M882.1 116.5L883.9 114.5 M890.1 115.2L893.9 121.8 M899.0 121.7L902.0 116.3 M907.1 116.2L910.9 122.8 M916.5 132.0L918.5 135.0 M923.5 134.5L928.5 121.5 M932.0 121.7L938.0 143.3 M941.6 143.5L945.4 134.5 M951.5 133.1L952.5 133.9 M960.3 141.3L960.7 141.7 M965.6 140.2L972.4 105.8 M977.1 104.5L978.9 106.5 M985.5 115.0L987.5 118.0 M994.1 118.5L995.9 116.5 M1002.6 108.1L1005.4 103.9 M1020.1 105.5L1021.9 107.5 M1028.5 116.0L1030.5 119.0 M1037.1 127.5L1038.9 129.5 M1045.7 129.2L1048.3 125.8" fill="none" stroke="#ee0000" stroke-width="1" stroke-linejoin="round"/>
<circle cx="216.5" cy="135.5" r="3.9" fill="#fff" stroke="#ee0000"/>
<circle cx="224.5" cy="143.5" r="3.9" fill="#fff" stroke="#ee0000"/>
<circle cx="233.5" cy="126.5" r="3.9" fill="#fff" stroke="#ee0000"/>
<circle cx="241.5" cy="127.5" r="3.9" fill="#fff" stroke="#ee0000"/>
<circle cx="250.5" cy="133.5" r="3.9" fill="#fff" stroke="#ee0000"/>
<circle cx="259.5" cy="127.5" r="3.9" fill="#fff" stroke="#ee0000"/>
<circle cx="267.5" cy="118.5" r="3.9" fill="#fff" stroke="#ee0000"/>
<circle cx="276.5" cy="110.5" r="3.9" fill="#fff" stroke="#ee0000"/>
<circle cx="284.5" cy="124.5" r="3.9" fill="#fff" stroke="#ee0000"/>
<circle cx="293.5" cy="133.5" r="3.9" fill="#fff" stroke="#ee0000"/>
<circle cx="302.5" cy="110.5" r="3.9" fill="#fff" stroke="#ee0000"/>
<circle cx="310.5" cy="114.5" r="3.9" fill="#fff" stroke="#ee0000"/>
<circle cx="319.5" cy="120.5" r="3.9" fill="#fff" stroke="#ee0000"/>
<circle cx="328.5" cy="142.5" r="3.9" fill="#fff" stroke="#ee0000"/>
<circle cx="336.5" cy="147.5" r="3.9" fill="#fff" stroke="#ee0000"/>
<circle cx="345.5" cy="166.5" r="3.9" fill="#fff" stroke="#ee0000"/>
<circle cx="353.5" cy="153.5" r="3.9" fill="#fff" stroke="#ee0000"/>
<circle cx="362.5" cy="145.5" r="3.9" fill="#fff" stroke="#ee0000"/>
<circle cx="371.5" cy="133.5" r="3.9" fill="#fff" stroke="#ee0000"/>
<circle cx="379.5" cy="169.5" r="3.9" fill="#fff" stroke="#ee0000"/>
<circle cx="388.5" cy="110.5" r="3.9" fill="#fff" stroke="#ee0000"/>
<circle cx="396.5" cy="119.5" r="3.9" fill="#fff" stroke="#ee0000"/>
<circle cx="405.5" cy="135.5" r="3.9" fill="#fff" stroke="#ee0000"/>
<circle cx="414.5" cy="179.5" r="3.9" fill="#fff" stroke="#ee0000"/>
<circle cx="422.5" cy="162.5" r="3.9" fill="#fff" stroke="#ee0000"/>
<circle cx="431.5" cy="192.5" r="3.9" fill="#fff" stroke="#ee0000"/>
<circle cx="439.5" cy="203.5" r="3.9" fill="#fff" stroke="#ee0000"/>
<circle cx="448.5" cy="195.5" r="3.9" fill="#fff" stroke="#ee0000"/>
<circle cx="457.5" cy="177.5" r="3.9" fill="#fff" stroke="#ee0000"/>
<circle cx="474.5" cy="175.5" r="3.9" fill="#fff" stroke="#ee0000"/>
<circle cx="482.5" cy="135.5" r="3.9" fill="#fff" stroke="#ee0000"/>
<circle cx="491.5" cy="146.5" r="3.9" fill="#fff" stroke="#ee0000"/>
<circle cx="569.5" cy="115.5" r="3.9" fill="#fff" stroke="#ee0000"/>
<circle cx="577.5" cy="104.5" r="3.9" fill="#fff" stroke="#ee0000"/>
<circle cx="586.5" cy="106.5" r="3.9" fill="#fff" stroke="#ee0000"/>
<circle cx="594.5" cy="98.5" r="3.9" fill="#fff" stroke="#ee0000"/>
<circle cx="603.5" cy="106.5" r="3.9" fill="#fff" stroke="#ee0000"/>
<circle cx="612.5" cy="109.5" r="3.9" fill="#fff" stroke="#ee0000"/>
<circle cx="620.5" cy="137.5" r="3.9" fill="#fff" stroke="#ee0000"/>
<circle cx="629.5" cy="133.5" r="3.9" fill="#fff" stroke="#ee0000"/>
<circle cx="637.5" cy="130.5" r="3.9" fill="#fff" stroke="#ee0000"/>
<circle cx="646.5" cy="127.5" r="3.9" fill="#fff" stroke="#ee0000"/>
<circle cx="655.5" cy="109.5" r="3.9" fill="#fff" stroke="#ee0000"/>
<circle cx="663.5" cy="109.5" r="3.9" fill="#fff" stroke="#ee0000"/>
<circle cx="672.5" cy="103.5" r="3.9" fill="#fff" stroke="#ee0000"/>
<circle cx="680.5" cy="103.5" r="3.9" fill="#fff" stroke="#ee0000"/>
<circle cx="689.5" cy="106.5" r="3.9" fill="#fff" stroke="#ee0000"/>
<circle cx="698.5" cy="103.5" r="3.9" fill="#fff" stroke="#ee0000"/>
<circle cx="706.5" cy="111.5" r="3.9" fill="#fff" stroke="#ee0000"/>
<circle cx="715.5" cy="116.5" r="3.9" fill="#fff" stroke="#ee0000"/>
<circle cx="723.5" cy="125.5" r="3.9" fill="#fff" stroke="#ee0000"/>
<circle cx="732.5" cy="103.5" r="3.9" fill="#fff" stroke="#ee0000"/>
<circle cx="741.5" cy="123.5" r="3.9" fill="#fff" stroke="#ee0000"/>
<circle cx="749.5" cy="120.5" r="3.9" fill="#fff" stroke="#ee0000"/>
<circle cx="758.5" cy="128.5" r="3.9" fill="#fff" stroke="#ee0000"/>
<circle cx="767.5" cy="129.5" r="3.9" fill="#fff" stroke="#ee0000"/>
<circle cx="775.5" cy="120.5" r="3.9" fill="#fff" stroke="#ee0000"/>
<circle cx="784.5" cy="110.5" r="3.9" fill="#fff" stroke="#ee0000"/>
<circle cx="792.5" cy="101.5" r="3.9" fill="#fff" stroke="#ee0000"/>
<circle cx="801.5" cy="105.5" r="3.9" fill="#fff" stroke="#ee0000"/>
<circle cx="810.5" cy="94.5" r="3.9" fill="#fff" stroke="#ee0000"/>
<circle cx="818.5" cy="110.5" r="3.9" fill="#fff" stroke="#ee0000"/>
<circle cx="827.5" cy="113.5" r="3.9" fill="#fff" stroke="#ee0000"/>
<circle cx="835.5" cy="107.5" r="3.9" fill="#fff" stroke="#ee0000"/>
<circle cx="844.5" cy="112.5" r="3.9" fill="#fff" stroke="#ee0000"/>
<circle cx="853.5" cy="139.5" r="3.9" fill="#fff" stroke="#ee0000"/>
<circle cx="861.5" cy="118.5" r="3.9" fill="#fff" stroke="#ee0000"/>
<circle cx="870.5" cy="100.5" r="3.9" fill="#fff" stroke="#ee0000"/>
<circle cx="878.5" cy="120.5" r="3.9" fill="#fff" stroke="#ee0000"/>
<circle cx="887.5" cy="110.5" r="3.9" fill="#fff" stroke="#ee0000"/>
<circle cx="896.5" cy="126.5" r="3.9" fill="#fff" stroke="#ee0000"/>
<circle cx="904.5" cy="111.5" r="3.9" fill="#fff" stroke="#ee0000"/>
<circle cx="913.5" cy="127.5" r="3.9" fill="#fff" stroke="#ee0000"/>
<circle cx="921.5" cy="139.5" r="3.9" fill="#fff" stroke="#ee0000"/>
<circle cx="930.5" cy="116.5" r="3.9" fill="#fff" stroke="#ee0000"/>
<circle cx="939.5" cy="148.5" r="3.9" fill="#fff" stroke="#ee0000"/>
<circle cx="947.5" cy="129.5" r="3.9" fill="#fff" stroke="#ee0000"/>
<circle cx="956.5" cy="137.5" r="3.9" fill="#fff" stroke="#ee0000"/>
<circle cx="964.5" cy="145.5" r="3.9" fill="#fff" stroke="#ee0000"/>
<circle cx="973.5" cy="100.5" r="3.9" fill="#fff" stroke="#ee0000"/>
<circle cx="982.5" cy="110.5" r="3.9" fill="#fff" stroke="#ee0000"/>
<circle cx="990.5" cy="122.5" r="3.9" fill="#fff" stroke="#ee0000"/>
<circle cx="999.5" cy="112.5" r="3.9" fill="#fff" stroke="#ee0000"/>
<circle cx="1008.5" cy="99.5" r="3.9" fill="#fff" stroke="#ee0000"/>
<circle cx="1016.5" cy="101.5" r="3.9" fill="#fff" stroke="#ee0000"/>
<circle cx="1025.5" cy="111.5" r="3.9" fill="#fff" stroke="#ee0000"/>
<circle cx="1033.5" cy="123.5" r="3.9" fill="#fff" stroke="#ee0000"/>
<circle cx="1042.5" cy="133.5" r="3.9" fill="#fff" stroke="#ee0000"/>
<circle cx="1051.5" cy="121.5" r="3.9" fill="#fff" stroke="#ee0000"/>
</g>
<g clip-path="url(#c1)" shape-rendering="crispEdges">
<path d="M220.3 132.3L220.7 132.7 M228.1 132.5L229.9 130.5 M236.3 121.9L238.7 118.1 M245.3 117.3L246.7 118.7 M253.3 127.1L256.7 132.9 M269.8 127.6L274.2 118.4 M278.5 118.5L282.5 128.5 M287.3 128.9L290.7 123.1 M321.8 129.4L326.2 138.6 M339.6 144.9L342.4 149.1 M354.7 155.2L361.3 126.8 M364.8 126.4L369.2 135.6 M383.3 130.7L384.7 129.3 M391.2 120.8L393.8 116.2 M397.8 116.7L404.2 142.3 M409.1 151.5L410.9 153.5 M415.3 162.8L421.7 206.2 M441.5 217.5L446.5 205.5" fill="none" stroke="#00dc00" stroke-width="1" stroke-linejoin="round"/>
<circle cx="216.5" cy="128.5" r="4.6" fill="#00dc00"/>
<circle cx="224.5" cy="136.5" r="4.6" fill="#00dc00"/>
<circle cx="233.5" cy="126.5" r="4.6" fill="#00dc00"/>
<circle cx="241.5" cy="113.5" r="4.6" fill="#00dc00"/>
<circle cx="250.5" cy="122.5" r="4.6" fill="#00dc00"/>
<circle cx="259.5" cy="137.5" r="4.6" fill="#00dc00"/>
<circle cx="267.5" cy="132.5" r="4.6" fill="#00dc00"/>
<circle cx="276.5" cy="113.5" r="4.6" fill="#00dc00"/>
<circle cx="284.5" cy="133.5" r="4.6" fill="#00dc00"/>
<circle cx="293.5" cy="118.5" r="4.6" fill="#00dc00"/>
<circle cx="302.5" cy="119.5" r="4.6" fill="#00dc00"/>
<circle cx="310.5" cy="122.5" r="4.6" fill="#00dc00"/>
<circle cx="319.5" cy="124.5" r="4.6" fill="#00dc00"/>
<circle cx="328.5" cy="143.5" r="4.6" fill="#00dc00"/>
<circle cx="336.5" cy="140.5" r="4.6" fill="#00dc00"/>
<circle cx="345.5" cy="153.5" r="4.6" fill="#00dc00"/>
<circle cx="353.5" cy="160.5" r="4.6" fill="#00dc00"/>
<circle cx="362.5" cy="121.5" r="4.6" fill="#00dc00"/>
<circle cx="371.5" cy="140.5" r="4.6" fill="#00dc00"/>
<circle cx="379.5" cy="134.5" r="4.6" fill="#00dc00"/>
<circle cx="388.5" cy="125.5" r="4.6" fill="#00dc00"/>
<circle cx="396.5" cy="111.5" r="4.6" fill="#00dc00"/>
<circle cx="405.5" cy="147.5" r="4.6" fill="#00dc00"/>
<circle cx="414.5" cy="157.5" r="4.6" fill="#00dc00"/>
<circle cx="422.5" cy="211.5" r="4.6" fill="#00dc00"/>
<circle cx="439.5" cy="222.5" r="4.6" fill="#00dc00"/>
<circle cx="448.5" cy="200.5" r="4.6" fill="#00dc00"/>
</g>
<rect x="216" y="73.0" width="834" height="323.0" fill="none" stroke="#000" stroke-width="2" shape-rendering="crispEdges"/>
<path d="M212 73.5H215 M212 113.5H215 M212 154.5H215 M212 194.5H215 M212 234.5H215 M212 275.5H215 M212 315.5H215 M212 355.5H215 M276.5 397.0V401.0 M405.5 397.0V401.0 M534.5 397.0V401.0 M672.5 397.0V401.0 M801.5 397.0V401.0 M930.5 397.0V401.0" fill="none" stroke="#000" stroke-width="1" shape-rendering="crispEdges"/>
<g clip-path="url(#c1)" shape-rendering="crispEdges">
<path d="M218.7 145.4L222.3 153.6 M225.7 153.2L232.3 123.8 M235.9 123.3L239.1 129.7 M242.6 139.8L249.4 174.2 M253.6 183.9L256.4 188.1 M261.6 187.5L265.4 178.5 M268.6 168.2L275.4 136.8 M278.7 136.4L282.3 144.6 M297.5 142.9L298.5 142.1 M305.7 134.1L307.3 131.9 M313.6 131.9L316.4 136.1 M321.1 145.7L326.9 165.3 M329.6 165.2L335.4 135.8 M337.4 135.8L344.6 181.2 M364.2 172.4L369.8 154.6 M375.3 153.3L375.7 153.7 M380.7 152.2L387.3 122.8 M397.4 121.8L404.6 166.2 M416.6 178.5L420.4 187.5 M426.3 196.3L427.7 197.7 M432.5 206.8L438.5 238.2 M477.0 192.7L480.0 187.3 M563.1 136.8L566.9 130.2 M572.9 121.3L574.1 119.7 M588.3 115.4L592.7 102.6 M596.2 102.6L601.8 119.4 M615.5 125.0L617.5 128.0 M621.4 137.8L628.6 180.2 M630.4 180.2L636.6 144.8 M639.2 134.4L644.8 117.6 M648.8 117.4L653.2 126.6 M666.4 131.0L669.6 126.0 M692.6 127.1L695.4 122.9 M716.6 118.8L722.4 148.2 M726.0 148.7L730.0 141.3 M734.7 141.4L739.3 151.6 M745.3 160.3L745.7 160.7 M752.3 159.9L755.7 154.1 M776.9 141.3L783.1 118.7 M811.6 110.8L817.4 138.2 M829.1 132.3L833.9 116.7 M837.5 116.5L842.5 129.5 M846.2 139.6L851.8 156.4 M855.0 156.3L860.0 138.7 M874.3 131.7L874.7 131.3 M881.9 123.3L884.1 120.7 M891.8 113.2L892.2 112.8 M898.1 114.6L902.9 129.4 M907.6 138.9L910.4 143.1 M915.3 142.4L919.7 129.6 M931.2 127.9L938.8 188.1 M948.6 193.2L955.4 159.8 M959.9 158.7L961.1 160.3 M965.9 159.3L972.1 135.7 M985.5 135.0L987.5 138.0 M1001.5 132.5L1006.5 119.5 M1019.0 122.3L1023.0 129.7 M1029.1 130.5L1029.9 129.5 M1035.3 130.6L1040.7 145.4 M1044.4 145.4L1049.6 131.6" fill="none" stroke="#1e3cff" stroke-width="1" stroke-linejoin="round"/>
<rect x="212.5" y="136.5" width="8" height="8" fill="#fff" stroke="#1e3cff"/>
<rect x="220.5" y="154.5" width="8" height="8" fill="#fff" stroke="#1e3cff"/>
<rect x="229.5" y="114.5" width="8" height="8" fill="#fff" stroke="#1e3cff"/>
<rect x="237.5" y="130.5" width="8" height="8" fill="#fff" stroke="#1e3cff"/>
<rect x="246.5" y="175.5" width="8" height="8" fill="#fff" stroke="#1e3cff"/>
<rect x="255.5" y="188.5" width="8" height="8" fill="#fff" stroke="#1e3cff"/>
<rect x="263.5" y="169.5" width="8" height="8" fill="#fff" stroke="#1e3cff"/>
<rect x="272.5" y="127.5" width="8" height="8" fill="#fff" stroke="#1e3cff"/>
<rect x="280.5" y="145.5" width="8" height="8" fill="#fff" stroke="#1e3cff"/>
<rect x="289.5" y="142.5" width="8" height="8" fill="#fff" stroke="#1e3cff"/>
<rect x="298.5" y="134.5" width="8" height="8" fill="#fff" stroke="#1e3cff"/>
<rect x="306.5" y="123.5" width="8" height="8" fill="#fff" stroke="#1e3cff"/>
<rect x="315.5" y="136.5" width="8" height="8" fill="#fff" stroke="#1e3cff"/>
<rect x="324.5" y="166.5" width="8" height="8" fill="#fff" stroke="#1e3cff"/>
<rect x="332.5" y="126.5" width="8" height="8" fill="#fff" stroke="#1e3cff"/>
<rect x="341.5" y="182.5" width="8" height="8" fill="#fff" stroke="#1e3cff"/>
<rect x="349.5" y="177.5" width="8" height="8" fill="#fff" stroke="#1e3cff"/>
<rect x="358.5" y="173.5" width="8" height="8" fill="#fff" stroke="#1e3cff"/>
<rect x="367.5" y="145.5" width="8" height="8" fill="#fff" stroke="#1e3cff"/>
<rect x="375.5" y="153.5" width="8" height="8" fill="#fff" stroke="#1e3cff"/>
<rect x="384.5" y="113.5" width="8" height="8" fill="#fff" stroke="#1e3cff"/>
<rect x="392.5" y="112.5" width="8" height="8" fill="#fff" stroke="#1e3cff"/>
<rect x="401.5" y="167.5" width="8" height="8" fill="#fff" stroke="#1e3cff"/>
<rect x="410.5" y="169.5" width="8" height="8" fill="#fff" stroke="#1e3cff"/>
<rect x="418.5" y="188.5" width="8" height="8" fill="#fff" stroke="#1e3cff"/>
<rect x="427.5" y="197.5" width="8" height="8" fill="#fff" stroke="#1e3cff"/>
<rect x="435.5" y="239.5" width="8" height="8" fill="#fff" stroke="#1e3cff"/>
<rect x="453.5" y="218.5" width="8" height="8" fill="#fff" stroke="#1e3cff"/>
<rect x="470.5" y="193.5" width="8" height="8" fill="#fff" stroke="#1e3cff"/>
<rect x="478.5" y="178.5" width="8" height="8" fill="#fff" stroke="#1e3cff"/>
<rect x="487.5" y="181.5" width="8" height="8" fill="#fff" stroke="#1e3cff"/>
<rect x="556.5" y="137.5" width="8" height="8" fill="#fff" stroke="#1e3cff"/>
<rect x="565.5" y="121.5" width="8" height="8" fill="#fff" stroke="#1e3cff"/>
<rect x="573.5" y="111.5" width="8" height="8" fill="#fff" stroke="#1e3cff"/>
<rect x="582.5" y="116.5" width="8" height="8" fill="#fff" stroke="#1e3cff"/>
<rect x="590.5" y="93.5" width="8" height="8" fill="#fff" stroke="#1e3cff"/>
<rect x="599.5" y="120.5" width="8" height="8" fill="#fff" stroke="#1e3cff"/>
<rect x="608.5" y="116.5" width="8" height="8" fill="#fff" stroke="#1e3cff"/>
<rect x="616.5" y="128.5" width="8" height="8" fill="#fff" stroke="#1e3cff"/>
<rect x="625.5" y="181.5" width="8" height="8" fill="#fff" stroke="#1e3cff"/>
<rect x="633.5" y="135.5" width="8" height="8" fill="#fff" stroke="#1e3cff"/>
<rect x="642.5" y="108.5" width="8" height="8" fill="#fff" stroke="#1e3cff"/>
<rect x="651.5" y="127.5" width="8" height="8" fill="#fff" stroke="#1e3cff"/>
<rect x="659.5" y="131.5" width="8" height="8" fill="#fff" stroke="#1e3cff"/>
<rect x="668.5" y="117.5" width="8" height="8" fill="#fff" stroke="#1e3cff"/>
<rect x="676.5" y="123.5" width="8" height="8" fill="#fff" stroke="#1e3cff"/>
<rect x="685.5" y="127.5" width="8" height="8" fill="#fff" stroke="#1e3cff"/>
<rect x="694.5" y="114.5" width="8" height="8" fill="#fff" stroke="#1e3cff"/>
<rect x="702.5" y="113.5" width="8" height="8" fill="#fff" stroke="#1e3cff"/>
<rect x="711.5" y="109.5" width="8" height="8" fill="#fff" stroke="#1e3cff"/>
<rect x="719.5" y="149.5" width="8" height="8" fill="#fff" stroke="#1e3cff"/>
<rect x="728.5" y="132.5" width="8" height="8" fill="#fff" stroke="#1e3cff"/>
<rect x="737.5" y="152.5" width="8" height="8" fill="#fff" stroke="#1e3cff"/>
<rect x="745.5" y="160.5" width="8" height="8" fill="#fff" stroke="#1e3cff"/>
<rect x="754.5" y="145.5" width="8" height="8" fill="#fff" stroke="#1e3cff"/>
<rect x="763.5" y="143.5" width="8" height="8" fill="#fff" stroke="#1e3cff"/>
<rect x="771.5" y="142.5" width="8" height="8" fill="#fff" stroke="#1e3cff"/>
<rect x="780.5" y="109.5" width="8" height="8" fill="#fff" stroke="#1e3cff"/>
<rect x="788.5" y="106.5" width="8" height="8" fill="#fff" stroke="#1e3cff"/>
<rect x="797.5" y="105.5" width="8" height="8" fill="#fff" stroke="#1e3cff"/>
<rect x="806.5" y="101.5" width="8" height="8" fill="#fff" stroke="#1e3cff"/>
<rect x="814.5" y="139.5" width="8" height="8" fill="#fff" stroke="#1e3cff"/>
<rect x="823.5" y="133.5" width="8" height="8" fill="#fff" stroke="#1e3cff"/>
<rect x="831.5" y="107.5" width="8" height="8" fill="#fff" stroke="#1e3cff"/>
<rect x="840.5" y="130.5" width="8" height="8" fill="#fff" stroke="#1e3cff"/>
<rect x="849.5" y="157.5" width="8" height="8" fill="#fff" stroke="#1e3cff"/>
<rect x="857.5" y="129.5" width="8" height="8" fill="#fff" stroke="#1e3cff"/>
<rect x="866.5" y="131.5" width="8" height="8" fill="#fff" stroke="#1e3cff"/>
<rect x="874.5" y="123.5" width="8" height="8" fill="#fff" stroke="#1e3cff"/>
<rect x="883.5" y="112.5" width="8" height="8" fill="#fff" stroke="#1e3cff"/>
<rect x="892.5" y="105.5" width="8" height="8" fill="#fff" stroke="#1e3cff"/>
<rect x="900.5" y="130.5" width="8" height="8" fill="#fff" stroke="#1e3cff"/>
<rect x="909.5" y="143.5" width="8" height="8" fill="#fff" stroke="#1e3cff"/>
<rect x="917.5" y="120.5" width="8" height="8" fill="#fff" stroke="#1e3cff"/>
<rect x="926.5" y="118.5" width="8" height="8" fill="#fff" stroke="#1e3cff"/>
<rect x="935.5" y="189.5" width="8" height="8" fill="#fff" stroke="#1e3cff"/>
<rect x="943.5" y="194.5" width="8" height="8" fill="#fff" stroke="#1e3cff"/>
<rect x="952.5" y="150.5" width="8" height="8" fill="#fff" stroke="#1e3cff"/>
<rect x="960.5" y="160.5" width="8" height="8" fill="#fff" stroke="#1e3cff"/>
<rect x="969.5" y="126.5" width="8" height="8" fill="#fff" stroke="#1e3cff"/>
<rect x="978.5" y="126.5" width="8" height="8" fill="#fff" stroke="#1e3cff"/>
<rect x="986.5" y="138.5" width="8" height="8" fill="#fff" stroke="#1e3cff"/>
<rect x="995.5" y="133.5" width="8" height="8" fill="#fff" stroke="#1e3cff"/>
<rect x="1004.5" y="110.5" width="8" height="8" fill="#fff" stroke="#1e3cff"/>
<rect x="1012.5" y="113.5" width="8" height="8" fill="#fff" stroke="#1e3cff"/>
<rect x="1021.5" y="130.5" width="8" height="8" fill="#fff" stroke="#1e3cff"/>
<rect x="1029.5" y="121.5" width="8" height="8" fill="#fff" stroke="#1e3cff"/>
<rect x="1038.5" y="146.5" width="8" height="8" fill="#fff" stroke="#1e3cff"/>
<rect x="1047.5" y="122.5" width="8" height="8" fill="#fff" stroke="#1e3cff"/>
</g>
<path d="M216 73.5H1051 M216 113.5H1051 M216 154.5H1051 M216 194.5H1051 M216 234.5H1051 M216 275.5H1051 M216 315.5H1051 M216 355.5H1051" fill="none" stroke="#7d7d7d" stroke-width="1" stroke-dasharray="2 6.836" shape-rendering="crispEdges"/>
<path d="M276.5 397.0V72.0 M405.5 397.0V72.0 M534.5 397.0V72.0 M672.5 397.0V72.0 M801.5 397.0V72.0 M930.5 397.0V72.0" fill="none" stroke="#7d7d7d" stroke-width="1" stroke-dasharray="2 6.836" shape-rendering="crispEdges"/>
<path class="t" d="M201.35 70.40 L202.22 69.93 L203.51 68.50 L203.51 78.50" stroke="#000" stroke-width="1.0" />
<path class="t" d="M181.05 108.50 L179.75 108.98 L178.89 110.40 L178.46 112.79 L178.46 114.21 L178.89 116.60 L179.75 118.02 L181.05 118.50 L181.91 118.50 L183.21 118.02 L184.07 116.60 L184.50 114.21 L184.50 112.79 L184.07 110.40 L183.21 108.98 L181.91 108.50 L181.05 108.50 M187.96 117.55 L187.53 118.02 L187.96 118.50 L188.39 118.02 L187.96 117.55 M197.03 111.83 L196.60 113.26 L195.74 114.21 L194.44 114.69 L194.01 114.69 L192.71 114.21 L191.85 113.26 L191.42 111.83 L191.42 111.36 L191.85 109.93 L192.71 108.98 L194.01 108.50 L194.44 108.50 L195.74 108.98 L196.60 109.93 L197.03 111.83 L197.03 114.21 L196.60 116.60 L195.74 118.02 L194.44 118.50 L193.58 118.50 L192.28 118.02 L191.85 117.07 M205.24 108.50 L200.92 108.50 L200.49 112.79 L200.92 112.31 L202.22 111.83 L203.51 111.83 L204.81 112.31 L205.67 113.26 L206.10 114.69 L206.10 115.64 L205.67 117.07 L204.81 118.02 L203.51 118.50 L202.22 118.50 L200.92 118.02 L200.49 117.55 L200.06 116.60" stroke="#000" stroke-width="1.0" />
<path class="t" d="M189.69 149.50 L188.39 149.98 L187.53 151.40 L187.10 153.79 L187.10 155.21 L187.53 157.60 L188.39 159.02 L189.69 159.50 L190.55 159.50 L191.85 159.02 L192.71 157.60 L193.14 155.21 L193.14 153.79 L192.71 151.40 L191.85 149.98 L190.55 149.50 L189.69 149.50 M196.60 158.55 L196.17 159.02 L196.60 159.50 L197.03 159.02 L196.60 158.55 M205.67 152.83 L205.24 154.26 L204.38 155.21 L203.08 155.69 L202.65 155.69 L201.35 155.21 L200.49 154.26 L200.06 152.83 L200.06 152.36 L200.49 150.93 L201.35 149.98 L202.65 149.50 L203.08 149.50 L204.38 149.98 L205.24 150.93 L205.67 152.83 L205.67 155.21 L205.24 157.60 L204.38 159.02 L203.08 159.50 L202.22 159.50 L200.92 159.02 L200.49 158.07" stroke="#000" stroke-width="1.0" />
<path class="t" d="M181.05 189.50 L179.75 189.98 L178.89 191.40 L178.46 193.79 L178.46 195.21 L178.89 197.60 L179.75 199.02 L181.05 199.50 L181.91 199.50 L183.21 199.02 L184.07 197.60 L184.50 195.21 L184.50 193.79 L184.07 191.40 L183.21 189.98 L181.91 189.50 L181.05 189.50 M187.96 198.55 L187.53 199.02 L187.96 199.50 L188.39 199.02 L187.96 198.55 M193.58 189.50 L192.28 189.98 L191.85 190.93 L191.85 191.88 L192.28 192.83 L193.14 193.31 L194.87 193.79 L196.17 194.26 L197.03 195.21 L197.46 196.17 L197.46 197.60 L197.03 198.55 L196.60 199.02 L195.30 199.50 L193.58 199.50 L192.28 199.02 L191.85 198.55 L191.42 197.60 L191.42 196.17 L191.85 195.21 L192.71 194.26 L194.01 193.79 L195.74 193.31 L196.60 192.83 L197.03 191.88 L197.03 190.93 L196.60 189.98 L195.30 189.50 L193.58 189.50 M205.24 189.50 L200.92 189.50 L200.49 193.79 L200.92 193.31 L202.22 192.83 L203.51 192.83 L204.81 193.31 L205.67 194.26 L206.10 195.69 L206.10 196.64 L205.67 198.07 L204.81 199.02 L203.51 199.50 L202.22 199.50 L200.92 199.02 L200.49 198.55 L200.06 197.60" stroke="#000" stroke-width="1.0" />
<path class="t" d="M189.69 229.50 L188.39 229.98 L187.53 231.40 L187.10 233.79 L187.10 235.21 L187.53 237.60 L188.39 239.02 L189.69 239.50 L190.55 239.50 L191.85 239.02 L192.71 237.60 L193.14 235.21 L193.14 233.79 L192.71 231.40 L191.85 229.98 L190.55 229.50 L189.69 229.50 M196.60 238.55 L196.17 239.02 L196.60 239.50 L197.03 239.02 L196.60 238.55 M202.22 229.50 L200.92 229.98 L200.49 230.93 L200.49 231.88 L200.92 232.83 L201.78 233.31 L203.51 233.79 L204.81 234.26 L205.67 235.21 L206.10 236.17 L206.10 237.60 L205.67 238.55 L205.24 239.02 L203.94 239.50 L202.22 239.50 L200.92 239.02 L200.49 238.55 L200.06 237.60 L200.06 236.17 L200.49 235.21 L201.35 234.26 L202.65 233.79 L204.38 233.31 L205.24 232.83 L205.67 231.88 L205.67 230.93 L205.24 229.98 L203.94 229.50 L202.22 229.50" stroke="#000" stroke-width="1.0" />
<path class="t" d="M181.05 270.50 L179.75 270.98 L178.89 272.40 L178.46 274.79 L178.46 276.21 L178.89 278.60 L179.75 280.02 L181.05 280.50 L181.91 280.50 L183.21 280.02 L184.07 278.60 L184.50 276.21 L184.50 274.79 L184.07 272.40 L183.21 270.98 L181.91 270.50 L181.05 270.50 M187.96 279.55 L187.53 280.02 L187.96 280.50 L188.39 280.02 L187.96 279.55 M197.46 270.50 L193.14 280.50 M191.42 270.50 L197.46 270.50 M205.24 270.50 L200.92 270.50 L200.49 274.79 L200.92 274.31 L202.22 273.83 L203.51 273.83 L204.81 274.31 L205.67 275.26 L206.10 276.69 L206.10 277.64 L205.67 279.07 L204.81 280.02 L203.51 280.50 L202.22 280.50 L200.92 280.02 L200.49 279.55 L200.06 278.60" stroke="#000" stroke-width="1.0" />
<path class="t" d="M189.69 310.50 L188.39 310.98 L187.53 312.40 L187.10 314.79 L187.10 316.21 L187.53 318.60 L188.39 320.02 L189.69 320.50 L190.55 320.50 L191.85 320.02 L192.71 318.60 L193.14 316.21 L193.14 314.79 L192.71 312.40 L191.85 310.98 L190.55 310.50 L189.69 310.50 M196.60 319.55 L196.17 320.02 L196.60 320.50 L197.03 320.02 L196.60 319.55 M206.10 310.50 L201.78 320.50 M200.06 310.50 L206.10 310.50" stroke="#000" stroke-width="1.0" />
<path class="t" d="M181.05 350.50 L179.75 350.98 L178.89 352.40 L178.46 354.79 L178.46 356.21 L178.89 358.60 L179.75 360.02 L181.05 360.50 L181.91 360.50 L183.21 360.02 L184.07 358.60 L184.50 356.21 L184.50 354.79 L184.07 352.40 L183.21 350.98 L181.91 350.50 L181.05 350.50 M187.96 359.55 L187.53 360.02 L187.96 360.50 L188.39 360.02 L187.96 359.55 M197.03 351.93 L196.60 350.98 L195.30 350.50 L194.44 350.50 L193.14 350.98 L192.28 352.40 L191.85 354.79 L191.85 357.17 L192.28 359.07 L193.14 360.02 L194.44 360.50 L194.87 360.50 L196.17 360.02 L197.03 359.07 L197.46 357.64 L197.46 357.17 L197.03 355.74 L196.17 354.79 L194.87 354.31 L194.44 354.31 L193.14 354.79 L192.28 355.74 L191.85 357.17 M205.24 350.50 L200.92 350.50 L200.49 354.79 L200.92 354.31 L202.22 353.83 L203.51 353.83 L204.81 354.31 L205.67 355.26 L206.10 356.69 L206.10 357.64 L205.67 359.07 L204.81 360.02 L203.51 360.50 L202.22 360.50 L200.92 360.02 L200.49 359.55 L200.06 358.60" stroke="#000" stroke-width="1.0" />
<path class="t" d="M257.09 406.40 L257.96 405.93 L259.25 404.50 L259.25 414.50 M270.05 405.93 L269.62 404.98 L268.32 404.50 L267.46 404.50 L266.16 404.98 L265.30 406.40 L264.87 408.79 L264.87 411.17 L265.30 413.07 L266.16 414.02 L267.46 414.50 L267.89 414.50 L269.19 414.02 L270.05 413.07 L270.48 411.64 L270.48 411.17 L270.05 409.74 L269.19 408.79 L267.89 408.31 L267.46 408.31 L266.16 408.79 L265.30 409.74 L264.87 411.17 M279.12 405.93 L278.26 404.98 L276.96 404.50 L275.24 404.50 L273.94 404.98 L273.08 405.93 L273.08 406.88 L273.51 407.83 L273.94 408.31 L274.80 408.79 L277.40 409.74 L278.26 410.21 L278.69 410.69 L279.12 411.64 L279.12 413.07 L278.26 414.02 L276.96 414.50 L275.24 414.50 L273.94 414.02 L273.08 413.07 M282.15 404.50 L282.15 414.50 M282.15 404.50 L287.76 404.50 M282.15 409.26 L285.60 409.26 M282.15 414.50 L287.76 414.50 M290.36 404.50 L290.36 414.50 M290.36 404.50 L294.24 404.50 L295.54 404.98 L295.97 405.45 L296.40 406.40 L296.40 407.83 L295.97 408.79 L295.54 409.26 L294.24 409.74 L290.36 409.74" stroke="#000" stroke-width="1.0" />
<path class="t" d="M390.63 406.40 L391.49 405.93 L392.79 404.50 L392.79 414.50 M400.56 404.50 L399.70 404.98 L398.84 405.93 L398.40 406.88 L397.97 408.31 L397.97 410.69 L398.40 412.12 L398.84 413.07 L399.70 414.02 L400.56 414.50 L402.29 414.50 L403.16 414.02 L404.02 413.07 L404.45 412.12 L404.88 410.69 L404.88 408.31 L404.45 406.88 L404.02 405.93 L403.16 404.98 L402.29 404.50 L400.56 404.50 M413.96 406.88 L413.52 405.93 L412.66 404.98 L411.80 404.50 L410.07 404.50 L409.20 404.98 L408.34 405.93 L407.91 406.88 L407.48 408.31 L407.48 410.69 L407.91 412.12 L408.34 413.07 L409.20 414.02 L410.07 414.50 L411.80 414.50 L412.66 414.02 L413.52 413.07 L413.96 412.12 M418.71 404.50 L418.71 414.50 M415.68 404.50 L421.73 404.50" stroke="#000" stroke-width="1.0" />
<path class="t" d="M515.31 406.40 L516.17 405.93 L517.47 404.50 L517.47 414.50 M528.27 405.93 L527.84 404.98 L526.54 404.50 L525.68 404.50 L524.38 404.98 L523.52 406.40 L523.08 408.79 L523.08 411.17 L523.52 413.07 L524.38 414.02 L525.68 414.50 L526.11 414.50 L527.40 414.02 L528.27 413.07 L528.70 411.64 L528.70 411.17 L528.27 409.74 L527.40 408.79 L526.11 408.31 L525.68 408.31 L524.38 408.79 L523.52 409.74 L523.08 411.17 M533.88 404.50 L533.02 404.98 L532.16 405.93 L531.72 406.88 L531.29 408.31 L531.29 410.69 L531.72 412.12 L532.16 413.07 L533.02 414.02 L533.88 414.50 L535.61 414.50 L536.48 414.02 L537.34 413.07 L537.77 412.12 L538.20 410.69 L538.20 408.31 L537.77 406.88 L537.34 405.93 L536.48 404.98 L535.61 404.50 L533.88 404.50 M547.28 406.88 L546.84 405.93 L545.98 404.98 L545.12 404.50 L543.39 404.50 L542.52 404.98 L541.66 405.93 L541.23 406.88 L540.80 408.31 L540.80 410.69 L541.23 412.12 L541.66 413.07 L542.52 414.02 L543.39 414.50 L545.12 414.50 L545.98 414.02 L546.84 413.07 L547.28 412.12 M552.03 404.50 L552.03 414.50 M549.00 404.50 L555.05 404.50" stroke="#000" stroke-width="1.0" />
<path class="t" d="M656.98 406.40 L657.84 405.93 L659.14 404.50 L659.14 414.50 M664.76 404.50 L664.76 414.50 M664.76 404.50 L670.80 414.50 M670.80 404.50 L670.80 414.50 M676.42 404.50 L675.56 404.98 L674.69 405.93 L674.26 406.88 L673.83 408.31 L673.83 410.69 L674.26 412.12 L674.69 413.07 L675.56 414.02 L676.42 414.50 L678.15 414.50 L679.01 414.02 L679.88 413.07 L680.31 412.12 L680.74 410.69 L680.74 408.31 L680.31 406.88 L679.88 405.93 L679.01 404.98 L678.15 404.50 L676.42 404.50 M682.47 404.50 L685.92 414.50 M689.38 404.50 L685.92 414.50" stroke="#000" stroke-width="1.0" />
<path class="t" d="M781.66 406.40 L782.52 405.93 L783.82 404.50 L783.82 414.50 M794.62 405.93 L794.19 404.98 L792.89 404.50 L792.03 404.50 L790.73 404.98 L789.87 406.40 L789.44 408.79 L789.44 411.17 L789.87 413.07 L790.73 414.02 L792.03 414.50 L792.46 414.50 L793.76 414.02 L794.62 413.07 L795.05 411.64 L795.05 411.17 L794.62 409.74 L793.76 408.79 L792.46 408.31 L792.03 408.31 L790.73 408.79 L789.87 409.74 L789.44 411.17 M798.08 404.50 L798.08 414.50 M798.08 404.50 L804.12 414.50 M804.12 404.50 L804.12 414.50 M809.74 404.50 L808.88 404.98 L808.01 405.93 L807.58 406.88 L807.15 408.31 L807.15 410.69 L807.58 412.12 L808.01 413.07 L808.88 414.02 L809.74 414.50 L811.47 414.50 L812.33 414.02 L813.20 413.07 L813.63 412.12 L814.06 410.69 L814.06 408.31 L813.63 406.88 L813.20 405.93 L812.33 404.98 L811.47 404.50 L809.74 404.50 M815.79 404.50 L819.24 414.50 M822.70 404.50 L819.24 414.50" stroke="#000" stroke-width="1.0" />
<path class="t" d="M915.20 406.40 L916.06 405.93 L917.36 404.50 L917.36 414.50 M922.97 404.50 L922.97 414.50 M922.97 404.50 L926.00 404.50 L927.29 404.98 L928.16 405.93 L928.59 406.88 L929.02 408.31 L929.02 410.69 L928.59 412.12 L928.16 413.07 L927.29 414.02 L926.00 414.50 L922.97 414.50 M932.04 404.50 L932.04 414.50 M932.04 404.50 L937.66 404.50 M932.04 409.26 L935.50 409.26 M932.04 414.50 L937.66 414.50 M946.30 406.88 L945.87 405.93 L945.00 404.98 L944.14 404.50 L942.41 404.50 L941.55 404.98 L940.68 405.93 L940.25 406.88 L939.82 408.31 L939.82 410.69 L940.25 412.12 L940.68 413.07 L941.55 414.02 L942.41 414.50 L944.14 414.50 L945.00 414.02 L945.87 413.07 L946.30 412.12" stroke="#000" stroke-width="1.0" />
<path class="t" d="M261.25 421.88 L261.25 421.40 L261.68 420.45 L262.11 419.98 L262.98 419.50 L264.70 419.50 L265.57 419.98 L266.00 420.45 L266.43 421.40 L266.43 422.36 L266.00 423.31 L265.14 424.74 L260.82 429.50 L266.86 429.50 M272.05 419.50 L270.75 419.98 L269.89 421.40 L269.46 423.79 L269.46 425.21 L269.89 427.60 L270.75 429.02 L272.05 429.50 L272.91 429.50 L274.21 429.02 L275.07 427.60 L275.50 425.21 L275.50 423.79 L275.07 421.40 L274.21 419.98 L272.91 419.50 L272.05 419.50 M280.69 419.50 L279.39 419.98 L278.53 421.40 L278.10 423.79 L278.10 425.21 L278.53 427.60 L279.39 429.02 L280.69 429.50 L281.55 429.50 L282.85 429.02 L283.71 427.60 L284.14 425.21 L284.14 423.79 L283.71 421.40 L282.85 419.98 L281.55 419.50 L280.69 419.50 M292.35 420.93 L291.92 419.98 L290.62 419.50 L289.76 419.50 L288.46 419.98 L287.60 421.40 L287.17 423.79 L287.17 426.17 L287.60 428.07 L288.46 429.02 L289.76 429.50 L290.19 429.50 L291.49 429.02 L292.35 428.07 L292.78 426.64 L292.78 426.17 L292.35 424.74 L291.49 423.79 L290.19 423.31 L289.76 423.31 L288.46 423.79 L287.60 424.74 L287.17 426.17" stroke="#000" stroke-width="1.0" />
<path class="t" d="M6.39 0.00 L0.00 18.40 M6.39 0.00 L12.79 18.40 M2.40 12.27 L10.39 12.27 M27.98 4.38 L27.18 2.63 L25.58 0.88 L23.98 0.00 L20.78 0.00 L19.18 0.88 L17.59 2.63 L16.79 4.38 L15.99 7.01 L15.99 11.39 L16.79 14.02 L17.59 15.77 L19.18 17.52 L20.78 18.40 L23.98 18.40 L25.58 17.52 L27.18 15.77 L27.98 14.02 M54.36 8.76 L53.56 7.01 L51.16 6.13 L48.76 6.13 L46.36 7.01 L45.56 8.76 L46.36 10.51 L47.96 11.39 L51.96 12.27 L53.56 13.14 L54.36 14.90 L54.36 15.77 L53.56 17.52 L51.16 18.40 L48.76 18.40 L46.36 17.52 L45.56 15.77 M68.74 8.76 L67.15 7.01 L65.55 6.13 L63.15 6.13 L61.55 7.01 L59.95 8.76 L59.15 11.39 L59.15 13.14 L59.95 15.77 L61.55 17.52 L63.15 18.40 L65.55 18.40 L67.15 17.52 L68.74 15.77 M77.54 6.13 L75.94 7.01 L74.34 8.76 L73.54 11.39 L73.54 13.14 L74.34 15.77 L75.94 17.52 L77.54 18.40 L79.93 18.40 L81.53 17.52 L83.13 15.77 L83.93 13.14 L83.93 11.39 L83.13 8.76 L81.53 7.01 L79.93 6.13 L77.54 6.13 M89.53 6.13 L89.53 18.40 M89.53 11.39 L90.33 8.76 L91.92 7.01 L93.52 6.13 L95.92 6.13 M99.12 11.39 L108.71 11.39 L108.71 9.64 L107.91 7.89 L107.11 7.01 L105.51 6.13 L103.12 6.13 L101.52 7.01 L99.92 8.76 L99.12 11.39 L99.12 13.14 L99.92 15.77 L101.52 17.52 L103.12 18.40 L105.51 18.40 L107.11 17.52 L108.71 15.77 M122.30 8.76 L121.50 7.01 L119.10 6.13 L116.70 6.13 L114.31 7.01 L113.51 8.76 L114.31 10.51 L115.91 11.39 L119.90 12.27 L121.50 13.14 L122.30 14.90 L122.30 15.77 L121.50 17.52 L119.10 18.40 L116.70 18.40 L114.31 17.52 L113.51 15.77" stroke="#000" stroke-width="1.8" transform="translate(143.0 296.2) rotate(-90)"/>
<clipPath id="c2"><rect x="215" y="452.0" width="837" height="325.0"/></clipPath>
<g clip-path="url(#c2)" shape-rendering="crispEdges">
<path d="M217.7 682.2L223.3 694.8 M225.5 700.3L232.5 719.7 M234.7 719.8L240.3 707.2 M242.1 701.6L249.9 666.4 M253.1 665.0L256.9 667.0 M262.3 667.4L264.7 666.6 M268.1 668.4L275.9 703.6 M277.4 703.6L283.6 682.4 M286.4 681.8L291.6 688.2 M295.5 692.7L300.5 698.3 M304.5 698.3L308.5 693.7 M311.0 688.5L319.0 641.5 M320.4 635.6L327.6 612.4 M328.8 612.5L336.2 699.5 M337.2 699.6L344.8 666.4 M348.5 663.5L350.5 663.5 M353.9 666.5L362.1 723.5 M363.4 723.6L370.6 699.4 M373.9 698.3L377.1 700.7 M380.5 705.3L387.5 724.7 M391.5 727.1L393.5 726.9 M398.3 724.1L403.7 716.9 M408.5 714.2L411.5 713.8 M415.5 710.7L421.5 693.3 M423.5 687.7L430.5 668.3 M432.4 668.3L438.6 686.7 M442.2 688.3L445.8 686.7 M450.9 683.7L455.1 680.3 M475.4 650.4L481.6 669.6 M485.4 671.8L488.6 671.2 M561.6 679.3L568.4 696.7 M571.9 697.7L575.1 695.3 M579.9 691.7L584.1 688.3 M587.2 689.4L593.8 718.6 M595.4 718.6L602.6 694.4 M605.3 693.9L610.7 701.1 M612.9 700.5L620.1 643.5 M622.5 638.3L627.5 632.7 M630.2 633.4L636.8 662.6 M638.9 668.2L645.1 679.8 M649.0 680.8L653.0 678.2 M657.4 674.2L661.6 668.8 M664.2 669.4L671.8 699.6 M674.5 704.7L678.5 709.3 M681.6 708.7L688.4 691.3 M691.1 691.0L696.9 700.0 M699.9 699.9L705.1 690.1 M707.8 684.8L714.2 672.2 M716.2 666.6L722.8 637.4 M724.3 637.4L731.7 663.6 M732.9 663.5L741.1 605.5 M742.4 605.4L748.6 625.6 M750.3 625.6L757.7 600.4 M760.0 600.1L766.0 609.9 M768.0 615.4L775.0 652.6 M776.6 652.7L783.4 634.3 M785.2 634.4L791.8 661.6 M795.3 663.6L798.7 662.4 M803.1 664.0L808.9 673.0 M811.0 672.5L818.0 634.5 M819.6 634.3L826.4 651.7 M828.2 657.4L834.8 682.6 M837.0 682.9L843.0 672.1 M845.7 666.7L852.3 651.3 M855.9 650.3L859.1 652.7 M863.0 651.9L869.0 642.1 M871.6 642.3L877.4 657.7 M880.2 663.0L885.8 671.0 M888.5 676.3L895.5 695.7 M897.2 695.6L903.8 670.4 M906.7 669.5L911.3 673.5 M914.8 672.8L920.2 661.2 M924.1 660.0L927.9 662.0 M931.1 660.6L938.9 618.4 M941.3 617.9L945.7 624.1 M948.1 629.4L955.9 667.6 M958.9 672.3L962.1 674.7 M966.9 674.7L971.1 671.3 M975.2 672.0L980.8 680.0 M985.0 680.9L988.0 679.1 M991.3 680.4L998.7 705.6 M1002.4 707.8L1005.6 707.2 M1010.8 704.5L1014.2 701.5 M1016.9 696.5L1025.1 640.5 M1026.1 640.4L1032.9 672.6 M1035.0 672.9L1041.0 662.1 M1045.0 661.2L1049.0 663.8" fill="none" stroke="#000" stroke-width="1" stroke-linejoin="round"/>
<path d="M212.0 679.5h9M216.5 675.0v9 M220.0 697.5h9M224.5 693.0v9 M229.0 722.5h9M233.5 718.0v9 M237.0 704.5h9M241.5 700.0v9 M246.0 663.5h9M250.5 659.0v9 M255.0 668.5h9M259.5 664.0v9 M263.0 665.5h9M267.5 661.0v9 M272.0 706.5h9M276.5 702.0v9 M280.0 679.5h9M284.5 675.0v9 M289.0 690.5h9M293.5 686.0v9 M298.0 700.5h9M302.5 696.0v9 M306.0 691.5h9M310.5 687.0v9 M315.0 638.5h9M319.5 634.0v9 M324.0 609.5h9M328.5 605.0v9 M332.0 702.5h9M336.5 698.0v9 M341.0 663.5h9M345.5 659.0v9 M349.0 663.5h9M353.5 659.0v9 M358.0 726.5h9M362.5 722.0v9 M367.0 696.5h9M371.5 692.0v9 M375.0 702.5h9M379.5 698.0v9 M384.0 727.5h9M388.5 723.0v9 M392.0 726.5h9M396.5 722.0v9 M401.0 714.5h9M405.5 710.0v9 M410.0 713.5h9M414.5 709.0v9 M418.0 690.5h9M422.5 686.0v9 M427.0 665.5h9M431.5 661.0v9 M435.0 689.5h9M439.5 685.0v9 M444.0 685.5h9M448.5 681.0v9 M453.0 678.5h9M457.5 674.0v9 M470.0 647.5h9M474.5 643.0v9 M478.0 672.5h9M482.5 668.0v9 M487.0 670.5h9M491.5 666.0v9 M556.0 676.5h9M560.5 672.0v9 M565.0 699.5h9M569.5 695.0v9 M573.0 693.5h9M577.5 689.0v9 M582.0 686.5h9M586.5 682.0v9 M590.0 721.5h9M594.5 717.0v9 M599.0 691.5h9M603.5 687.0v9 M608.0 703.5h9M612.5 699.0v9 M616.0 640.5h9M620.5 636.0v9 M625.0 630.5h9M629.5 626.0v9 M633.0 665.5h9M637.5 661.0v9 M642.0 682.5h9M646.5 678.0v9 M651.0 676.5h9M655.5 672.0v9 M659.0 666.5h9M663.5 662.0v9 M668.0 702.5h9M672.5 698.0v9 M676.0 711.5h9M680.5 707.0v9 M685.0 688.5h9M689.5 684.0v9 M694.0 702.5h9M698.5 698.0v9 M702.0 687.5h9M706.5 683.0v9 M711.0 669.5h9M715.5 665.0v9 M719.0 634.5h9M723.5 630.0v9 M728.0 666.5h9M732.5 662.0v9 M737.0 602.5h9M741.5 598.0v9 M745.0 628.5h9M749.5 624.0v9 M754.0 597.5h9M758.5 593.0v9 M763.0 612.5h9M767.5 608.0v9 M771.0 655.5h9M775.5 651.0v9 M780.0 631.5h9M784.5 627.0v9 M788.0 664.5h9M792.5 660.0v9 M797.0 661.5h9M801.5 657.0v9 M806.0 675.5h9M810.5 671.0v9 M814.0 631.5h9M818.5 627.0v9 M823.0 654.5h9M827.5 650.0v9 M831.0 685.5h9M835.5 681.0v9 M840.0 669.5h9M844.5 665.0v9 M849.0 648.5h9M853.5 644.0v9 M857.0 654.5h9M861.5 650.0v9 M866.0 639.5h9M870.5 635.0v9 M874.0 660.5h9M878.5 656.0v9 M883.0 673.5h9M887.5 669.0v9 M892.0 698.5h9M896.5 694.0v9 M900.0 667.5h9M904.5 663.0v9 M909.0 675.5h9M913.5 671.0v9 M917.0 658.5h9M921.5 654.0v9 M926.0 663.5h9M930.5 659.0v9 M935.0 615.5h9M939.5 611.0v9 M943.0 626.5h9M947.5 622.0v9 M952.0 670.5h9M956.5 666.0v9 M960.0 676.5h9M964.5 672.0v9 M969.0 669.5h9M973.5 665.0v9 M978.0 682.5h9M982.5 678.0v9 M986.0 677.5h9M990.5 673.0v9 M995.0 708.5h9M999.5 704.0v9 M1004.0 706.5h9M1008.5 702.0v9 M1012.0 699.5h9M1016.5 695.0v9 M1021.0 637.5h9M1025.5 633.0v9 M1029.0 675.5h9M1033.5 671.0v9 M1038.0 659.5h9M1042.5 655.0v9 M1047.0 665.5h9M1051.5 661.0v9" fill="none" stroke="#000" stroke-width="1"/>
</g>
<g clip-path="url(#c2)" shape-rendering="crispEdges">
<path d="M220.1 708.5L220.9 707.5 M228.1 707.5L229.9 709.5 M244.3 707.9L247.7 702.1 M253.9 701.7L256.1 704.3 M262.5 713.0L264.5 716.0 M270.7 724.8L273.3 728.2 M278.9 727.7L282.1 721.3 M288.3 712.7L289.7 711.3 M296.0 712.3L300.0 719.7 M306.3 720.7L306.7 720.3 M314.5 712.9L315.5 712.1 M321.9 703.7L326.1 695.3 M331.7 694.9L333.3 697.1 M338.9 696.7L343.1 688.3 M348.2 688.2L350.8 692.8 M366.1 704.5L367.9 706.5 M372.9 705.3L378.1 685.7 M380.3 685.8L387.7 738.2 M391.9 739.3L393.1 737.7 M407.7 729.6L412.3 719.4 M417.5 719.0L419.5 722.0 M424.8 721.6L429.2 712.4 M442.7 700.2L445.3 696.8 M475.6 669.8L481.4 699.2 M484.5 699.5L489.5 687.5 M571.6 711.5L575.4 720.5 M581.3 721.7L582.7 720.3 M589.5 721.0L591.5 724.0 M598.5 724.9L599.5 724.1 M613.6 716.2L619.4 687.8 M639.9 690.7L644.1 682.3 M648.0 682.7L654.0 703.3 M666.7 712.8L669.3 716.2 M700.7 716.6L704.3 708.4 M709.3 698.9L712.7 693.1 M717.4 683.5L721.6 672.5 M724.6 672.8L731.4 704.2 M733.6 704.2L740.4 671.8 M743.6 671.5L747.4 680.5 M752.1 680.8L755.9 674.2 M760.9 664.7L765.1 656.3 M777.6 654.5L782.4 665.5 M786.3 675.6L790.7 688.4 M802.8 696.7L809.2 722.3 M811.7 722.2L817.3 698.8 M829.7 693.4L833.3 701.6 M845.8 696.3L852.2 670.7 M855.8 670.4L859.2 677.6 M862.8 687.7L869.2 713.3 M871.8 713.3L877.2 691.7 M882.1 690.5L883.9 692.5 M890.7 692.2L893.3 688.8 M898.1 689.6L902.9 704.4 M906.1 704.3L911.9 685.7 M915.0 675.3L920.0 658.7 M923.1 658.7L928.9 678.3 M931.8 678.3L938.2 653.7 M940.7 653.8L946.3 677.2 M950.4 687.0L953.6 692.0 M965.6 697.8L972.4 730.2 M975.5 730.5L980.5 717.5 M985.3 707.9L987.7 704.1 M993.9 703.7L996.1 706.3 M1019.0 712.7L1023.0 705.3 M1037.1 689.5L1038.9 687.5 M1045.1 688.2L1048.9 694.8" fill="none" stroke="#ee0000" stroke-width="1" stroke-linejoin="round"/>
<circle cx="216.5" cy="712.5" r="3.9" fill="#fff" stroke="#ee0000"/>
<circle cx="224.5" cy="703.5" r="3.9" fill="#fff" stroke="#ee0000"/>
<circle cx="233.5" cy="713.5" r="3.9" fill="#fff" stroke="#ee0000"/>
<circle cx="241.5" cy="712.5" r="3.9" fill="#fff" stroke="#ee0000"/>
<circle cx="250.5" cy="697.5" r="3.9" fill="#fff" stroke="#ee0000"/>
<circle cx="259.5" cy="708.5" r="3.9" fill="#fff" stroke="#ee0000"/>
<circle cx="267.5" cy="720.5" r="3.9" fill="#fff" stroke="#ee0000"/>
<circle cx="276.5" cy="732.5" r="3.9" fill="#fff" stroke="#ee0000"/>
<circle cx="284.5" cy="716.5" r="3.9" fill="#fff" stroke="#ee0000"/>
<circle cx="293.5" cy="707.5" r="3.9" fill="#fff" stroke="#ee0000"/>
<circle cx="302.5" cy="724.5" r="3.9" fill="#fff" stroke="#ee0000"/>
<circle cx="310.5" cy="716.5" r="3.9" fill="#fff" stroke="#ee0000"/>
<circle cx="319.5" cy="708.5" r="3.9" fill="#fff" stroke="#ee0000"/>
<circle cx="328.5" cy="690.5" r="3.9" fill="#fff" stroke="#ee0000"/>
<circle cx="336.5" cy="701.5" r="3.9" fill="#fff" stroke="#ee0000"/>
<circle cx="345.5" cy="683.5" r="3.9" fill="#fff" stroke="#ee0000"/>
<circle cx="353.5" cy="697.5" r="3.9" fill="#fff" stroke="#ee0000"/>
<circle cx="362.5" cy="700.5" r="3.9" fill="#fff" stroke="#ee0000"/>
<circle cx="371.5" cy="710.5" r="3.9" fill="#fff" stroke="#ee0000"/>
<circle cx="379.5" cy="680.5" r="3.9" fill="#fff" stroke="#ee0000"/>
<circle cx="388.5" cy="743.5" r="3.9" fill="#fff" stroke="#ee0000"/>
<circle cx="396.5" cy="733.5" r="3.9" fill="#fff" stroke="#ee0000"/>
<circle cx="405.5" cy="734.5" r="3.9" fill="#fff" stroke="#ee0000"/>
<circle cx="414.5" cy="714.5" r="3.9" fill="#fff" stroke="#ee0000"/>
<circle cx="422.5" cy="726.5" r="3.9" fill="#fff" stroke="#ee0000"/>
<circle cx="431.5" cy="707.5" r="3.9" fill="#fff" stroke="#ee0000"/>
<circle cx="439.5" cy="704.5" r="3.9" fill="#fff" stroke="#ee0000"/>
<circle cx="448.5" cy="692.5" r="3.9" fill="#fff" stroke="#ee0000"/>
<circle cx="457.5" cy="689.5" r="3.9" fill="#fff" stroke="#ee0000"/>
<circle cx="474.5" cy="664.5" r="3.9" fill="#fff" stroke="#ee0000"/>
<circle cx="482.5" cy="704.5" r="3.9" fill="#fff" stroke="#ee0000"/>
<circle cx="491.5" cy="682.5" r="3.9" fill="#fff" stroke="#ee0000"/>
<circle cx="569.5" cy="706.5" r="3.9" fill="#fff" stroke="#ee0000"/>
<circle cx="577.5" cy="725.5" r="3.9" fill="#fff" stroke="#ee0000"/>
<circle cx="586.5" cy="716.5" r="3.9" fill="#fff" stroke="#ee0000"/>
<circle cx="594.5" cy="728.5" r="3.9" fill="#fff" stroke="#ee0000"/>
<circle cx="603.5" cy="720.5" r="3.9" fill="#fff" stroke="#ee0000"/>
<circle cx="612.5" cy="721.5" r="3.9" fill="#fff" stroke="#ee0000"/>
<circle cx="620.5" cy="682.5" r="3.9" fill="#fff" stroke="#ee0000"/>
<circle cx="629.5" cy="688.5" r="3.9" fill="#fff" stroke="#ee0000"/>
<circle cx="637.5" cy="695.5" r="3.9" fill="#fff" stroke="#ee0000"/>
<circle cx="646.5" cy="677.5" r="3.9" fill="#fff" stroke="#ee0000"/>
<circle cx="655.5" cy="708.5" r="3.9" fill="#fff" stroke="#ee0000"/>
<circle cx="663.5" cy="708.5" r="3.9" fill="#fff" stroke="#ee0000"/>
<circle cx="672.5" cy="720.5" r="3.9" fill="#fff" stroke="#ee0000"/>
<circle cx="680.5" cy="725.5" r="3.9" fill="#fff" stroke="#ee0000"/>
<circle cx="689.5" cy="725.5" r="3.9" fill="#fff" stroke="#ee0000"/>
<circle cx="698.5" cy="721.5" r="3.9" fill="#fff" stroke="#ee0000"/>
<circle cx="706.5" cy="703.5" r="3.9" fill="#fff" stroke="#ee0000"/>
<circle cx="715.5" cy="688.5" r="3.9" fill="#fff" stroke="#ee0000"/>
<circle cx="723.5" cy="667.5" r="3.9" fill="#fff" stroke="#ee0000"/>
<circle cx="732.5" cy="709.5" r="3.9" fill="#fff" stroke="#ee0000"/>
<circle cx="741.5" cy="666.5" r="3.9" fill="#fff" stroke="#ee0000"/>
<circle cx="749.5" cy="685.5" r="3.9" fill="#fff" stroke="#ee0000"/>
<circle cx="758.5" cy="669.5" r="3.9" fill="#fff" stroke="#ee0000"/>
<circle cx="767.5" cy="651.5" r="3.9" fill="#fff" stroke="#ee0000"/>
<circle cx="775.5" cy="649.5" r="3.9" fill="#fff" stroke="#ee0000"/>
<circle cx="784.5" cy="670.5" r="3.9" fill="#fff" stroke="#ee0000"/>
<circle cx="792.5" cy="693.5" r="3.9" fill="#fff" stroke="#ee0000"/>
<circle cx="801.5" cy="691.5" r="3.9" fill="#fff" stroke="#ee0000"/>
<circle cx="810.5" cy="727.5" r="3.9" fill="#fff" stroke="#ee0000"/>
<circle cx="818.5" cy="693.5" r="3.9" fill="#fff" stroke="#ee0000"/>
<circle cx="827.5" cy="688.5" r="3.9" fill="#fff" stroke="#ee0000"/>
<circle cx="835.5" cy="706.5" r="3.9" fill="#fff" stroke="#ee0000"/>
<circle cx="844.5" cy="701.5" r="3.9" fill="#fff" stroke="#ee0000"/>
<circle cx="853.5" cy="665.5" r="3.9" fill="#fff" stroke="#ee0000"/>
<circle cx="861.5" cy="682.5" r="3.9" fill="#fff" stroke="#ee0000"/>
<circle cx="870.5" cy="718.5" r="3.9" fill="#fff" stroke="#ee0000"/>
<circle cx="878.5" cy="686.5" r="3.9" fill="#fff" stroke="#ee0000"/>
<circle cx="887.5" cy="696.5" r="3.9" fill="#fff" stroke="#ee0000"/>
<circle cx="896.5" cy="684.5" r="3.9" fill="#fff" stroke="#ee0000"/>
<circle cx="904.5" cy="709.5" r="3.9" fill="#fff" stroke="#ee0000"/>
<circle cx="913.5" cy="680.5" r="3.9" fill="#fff" stroke="#ee0000"/>
<circle cx="921.5" cy="653.5" r="3.9" fill="#fff" stroke="#ee0000"/>
<circle cx="930.5" cy="683.5" r="3.9" fill="#fff" stroke="#ee0000"/>
<circle cx="939.5" cy="648.5" r="3.9" fill="#fff" stroke="#ee0000"/>
<circle cx="947.5" cy="682.5" r="3.9" fill="#fff" stroke="#ee0000"/>
<circle cx="956.5" cy="696.5" r="3.9" fill="#fff" stroke="#ee0000"/>
<circle cx="964.5" cy="692.5" r="3.9" fill="#fff" stroke="#ee0000"/>
<circle cx="973.5" cy="735.5" r="3.9" fill="#fff" stroke="#ee0000"/>
<circle cx="982.5" cy="712.5" r="3.9" fill="#fff" stroke="#ee0000"/>
<circle cx="990.5" cy="699.5" r="3.9" fill="#fff" stroke="#ee0000"/>
<circle cx="999.5" cy="710.5" r="3.9" fill="#fff" stroke="#ee0000"/>
<circle cx="1008.5" cy="716.5" r="3.9" fill="#fff" stroke="#ee0000"/>
<circle cx="1016.5" cy="717.5" r="3.9" fill="#fff" stroke="#ee0000"/>
<circle cx="1025.5" cy="700.5" r="3.9" fill="#fff" stroke="#ee0000"/>
<circle cx="1033.5" cy="693.5" r="3.9" fill="#fff" stroke="#ee0000"/>
<circle cx="1042.5" cy="683.5" r="3.9" fill="#fff" stroke="#ee0000"/>
<circle cx="1051.5" cy="699.5" r="3.9" fill="#fff" stroke="#ee0000"/>
</g>
<g clip-path="url(#c2)" shape-rendering="crispEdges">
<path d="M219.9 714.3L221.1 712.7 M235.3 715.6L239.7 728.4 M243.6 728.5L248.4 717.5 M253.9 708.3L256.1 705.7 M269.1 709.7L274.9 728.3 M278.1 728.3L282.9 712.7 M286.9 712.3L291.1 720.7 M296.6 721.1L299.4 716.9 M322.0 701.7L326.0 694.3 M330.7 694.4L334.3 702.6 M338.6 702.5L343.4 691.5 M354.9 696.7L361.1 719.3 M364.9 719.7L369.1 711.3 M383.1 715.5L384.9 717.5 M390.6 726.5L394.4 735.5 M398.5 735.5L403.5 723.5 M409.5 722.1L410.5 722.9 M416.0 721.3L421.0 703.7" fill="none" stroke="#00dc00" stroke-width="1" stroke-linejoin="round"/>
<circle cx="216.5" cy="718.5" r="4.6" fill="#00dc00"/>
<circle cx="224.5" cy="708.5" r="4.6" fill="#00dc00"/>
<circle cx="233.5" cy="710.5" r="4.6" fill="#00dc00"/>
<circle cx="241.5" cy="733.5" r="4.6" fill="#00dc00"/>
<circle cx="250.5" cy="712.5" r="4.6" fill="#00dc00"/>
<circle cx="259.5" cy="701.5" r="4.6" fill="#00dc00"/>
<circle cx="267.5" cy="704.5" r="4.6" fill="#00dc00"/>
<circle cx="276.5" cy="733.5" r="4.6" fill="#00dc00"/>
<circle cx="284.5" cy="707.5" r="4.6" fill="#00dc00"/>
<circle cx="293.5" cy="725.5" r="4.6" fill="#00dc00"/>
<circle cx="302.5" cy="712.5" r="4.6" fill="#00dc00"/>
<circle cx="310.5" cy="710.5" r="4.6" fill="#00dc00"/>
<circle cx="319.5" cy="706.5" r="4.6" fill="#00dc00"/>
<circle cx="328.5" cy="689.5" r="4.6" fill="#00dc00"/>
<circle cx="336.5" cy="707.5" r="4.6" fill="#00dc00"/>
<circle cx="345.5" cy="686.5" r="4.6" fill="#00dc00"/>
<circle cx="353.5" cy="691.5" r="4.6" fill="#00dc00"/>
<circle cx="362.5" cy="724.5" r="4.6" fill="#00dc00"/>
<circle cx="371.5" cy="706.5" r="4.6" fill="#00dc00"/>
<circle cx="379.5" cy="711.5" r="4.6" fill="#00dc00"/>
<circle cx="388.5" cy="721.5" r="4.6" fill="#00dc00"/>
<circle cx="396.5" cy="740.5" r="4.6" fill="#00dc00"/>
<circle cx="405.5" cy="718.5" r="4.6" fill="#00dc00"/>
<circle cx="414.5" cy="726.5" r="4.6" fill="#00dc00"/>
<circle cx="422.5" cy="698.5" r="4.6" fill="#00dc00"/>
<circle cx="439.5" cy="695.5" r="4.6" fill="#00dc00"/>
<circle cx="448.5" cy="694.5" r="4.6" fill="#00dc00"/>
</g>
<rect x="216" y="453.0" width="834" height="323.0" fill="none" stroke="#000" stroke-width="2" shape-rendering="crispEdges"/>
<path d="M212 453.5H215 M212 474.5H215 M212 496.5H215 M212 517.5H215 M212 539.5H215 M212 560.5H215 M212 582.5H215 M212 604.5H215 M212 625.5H215 M212 647.5H215 M212 668.5H215 M212 690.5H215 M212 711.5H215 M212 733.5H215 M212 754.5H215 M212 776.5H215 M276.5 777.0V781.0 M405.5 777.0V781.0 M534.5 777.0V781.0 M672.5 777.0V781.0 M801.5 777.0V781.0 M930.5 777.0V781.0" fill="none" stroke="#000" stroke-width="1" shape-rendering="crispEdges"/>
<g clip-path="url(#c2)" shape-rendering="crispEdges">
<path d="M219.0 698.7L222.0 693.3 M225.7 693.8L232.3 722.2 M235.4 722.5L239.6 711.5 M242.2 701.1L249.8 643.9 M254.8 641.8L255.2 642.2 M261.3 650.6L265.7 663.4 M268.7 673.8L275.3 703.2 M278.6 703.5L282.4 694.5 M306.1 691.5L306.9 692.5 M312.9 691.7L317.1 683.3 M321.5 673.5L326.5 661.5 M329.2 661.9L335.8 712.1 M337.5 712.2L344.5 673.8 M357.8 671.2L358.2 670.8 M364.0 672.7L370.0 694.3 M381.1 706.7L386.9 725.3 M398.0 732.3L404.0 710.7 M408.9 709.7L411.1 712.3 M417.3 711.9L419.7 708.1 M426.3 699.7L427.7 698.3 M434.7 690.1L436.3 687.9 M476.9 643.3L480.1 649.7 M484.9 649.7L489.1 641.3 M562.5 671.5L567.5 683.5 M571.4 693.5L575.6 704.5 M580.0 704.7L584.0 697.3 M587.5 697.8L593.5 730.2 M595.6 730.2L602.4 697.8 M607.1 696.5L608.9 698.5 M615.2 697.8L617.8 693.2 M621.2 683.2L628.8 628.8 M630.2 628.9L636.8 677.1 M640.3 687.1L643.7 692.9 M648.2 692.4L653.8 675.6 M658.0 665.7L661.0 660.3 M665.0 660.7L671.0 682.3 M693.8 685.8L694.2 686.2 M716.1 689.1L722.9 628.9 M726.0 628.3L730.0 635.7 M734.1 635.3L739.9 616.7 M745.3 615.3L745.7 615.7 M753.5 623.1L754.5 623.9 M769.8 616.6L773.2 609.4 M776.3 609.8L783.7 656.2 M787.2 666.2L789.8 670.8 M803.5 685.5L808.5 698.5 M811.2 698.1L817.8 645.9 M821.7 644.8L824.3 648.2 M828.4 657.8L834.6 697.2 M836.6 697.2L843.4 665.8 M846.4 655.4L851.6 641.6 M855.5 641.5L859.5 651.5 M873.9 661.7L875.1 663.3 M881.1 672.2L884.9 678.8 M889.2 688.6L894.8 705.4 M897.7 705.2L903.3 681.8 M906.3 671.4L911.7 655.6 M915.0 655.7L920.0 672.3 M931.1 672.1L938.9 595.9 M948.1 601.9L955.9 667.1 M967.0 673.3L971.0 680.7 M985.0 678.7L988.0 673.3 M1001.8 679.4L1006.2 688.6 M1012.3 689.7L1012.7 689.3 M1018.2 680.4L1023.8 663.6 M1026.9 663.7L1032.1 682.3 M1035.1 682.3L1040.9 663.7 M1043.8 663.7L1050.2 688.3" fill="none" stroke="#1e3cff" stroke-width="1" stroke-linejoin="round"/>
<rect x="212.5" y="699.5" width="8" height="8" fill="#fff" stroke="#1e3cff"/>
<rect x="220.5" y="684.5" width="8" height="8" fill="#fff" stroke="#1e3cff"/>
<rect x="229.5" y="723.5" width="8" height="8" fill="#fff" stroke="#1e3cff"/>
<rect x="237.5" y="702.5" width="8" height="8" fill="#fff" stroke="#1e3cff"/>
<rect x="246.5" y="634.5" width="8" height="8" fill="#fff" stroke="#1e3cff"/>
<rect x="255.5" y="641.5" width="8" height="8" fill="#fff" stroke="#1e3cff"/>
<rect x="263.5" y="664.5" width="8" height="8" fill="#fff" stroke="#1e3cff"/>
<rect x="272.5" y="704.5" width="8" height="8" fill="#fff" stroke="#1e3cff"/>
<rect x="280.5" y="685.5" width="8" height="8" fill="#fff" stroke="#1e3cff"/>
<rect x="289.5" y="688.5" width="8" height="8" fill="#fff" stroke="#1e3cff"/>
<rect x="298.5" y="683.5" width="8" height="8" fill="#fff" stroke="#1e3cff"/>
<rect x="306.5" y="692.5" width="8" height="8" fill="#fff" stroke="#1e3cff"/>
<rect x="315.5" y="674.5" width="8" height="8" fill="#fff" stroke="#1e3cff"/>
<rect x="324.5" y="652.5" width="8" height="8" fill="#fff" stroke="#1e3cff"/>
<rect x="332.5" y="713.5" width="8" height="8" fill="#fff" stroke="#1e3cff"/>
<rect x="341.5" y="664.5" width="8" height="8" fill="#fff" stroke="#1e3cff"/>
<rect x="349.5" y="670.5" width="8" height="8" fill="#fff" stroke="#1e3cff"/>
<rect x="358.5" y="663.5" width="8" height="8" fill="#fff" stroke="#1e3cff"/>
<rect x="367.5" y="695.5" width="8" height="8" fill="#fff" stroke="#1e3cff"/>
<rect x="375.5" y="697.5" width="8" height="8" fill="#fff" stroke="#1e3cff"/>
<rect x="384.5" y="726.5" width="8" height="8" fill="#fff" stroke="#1e3cff"/>
<rect x="392.5" y="733.5" width="8" height="8" fill="#fff" stroke="#1e3cff"/>
<rect x="401.5" y="701.5" width="8" height="8" fill="#fff" stroke="#1e3cff"/>
<rect x="410.5" y="712.5" width="8" height="8" fill="#fff" stroke="#1e3cff"/>
<rect x="418.5" y="699.5" width="8" height="8" fill="#fff" stroke="#1e3cff"/>
<rect x="427.5" y="690.5" width="8" height="8" fill="#fff" stroke="#1e3cff"/>
<rect x="435.5" y="679.5" width="8" height="8" fill="#fff" stroke="#1e3cff"/>
<rect x="453.5" y="660.5" width="8" height="8" fill="#fff" stroke="#1e3cff"/>
<rect x="470.5" y="634.5" width="8" height="8" fill="#fff" stroke="#1e3cff"/>
<rect x="478.5" y="650.5" width="8" height="8" fill="#fff" stroke="#1e3cff"/>
<rect x="487.5" y="632.5" width="8" height="8" fill="#fff" stroke="#1e3cff"/>
<rect x="556.5" y="662.5" width="8" height="8" fill="#fff" stroke="#1e3cff"/>
<rect x="565.5" y="684.5" width="8" height="8" fill="#fff" stroke="#1e3cff"/>
<rect x="573.5" y="705.5" width="8" height="8" fill="#fff" stroke="#1e3cff"/>
<rect x="582.5" y="688.5" width="8" height="8" fill="#fff" stroke="#1e3cff"/>
<rect x="590.5" y="731.5" width="8" height="8" fill="#fff" stroke="#1e3cff"/>
<rect x="599.5" y="688.5" width="8" height="8" fill="#fff" stroke="#1e3cff"/>
<rect x="608.5" y="698.5" width="8" height="8" fill="#fff" stroke="#1e3cff"/>
<rect x="616.5" y="684.5" width="8" height="8" fill="#fff" stroke="#1e3cff"/>
<rect x="625.5" y="619.5" width="8" height="8" fill="#fff" stroke="#1e3cff"/>
<rect x="633.5" y="678.5" width="8" height="8" fill="#fff" stroke="#1e3cff"/>
<rect x="642.5" y="693.5" width="8" height="8" fill="#fff" stroke="#1e3cff"/>
<rect x="651.5" y="666.5" width="8" height="8" fill="#fff" stroke="#1e3cff"/>
<rect x="659.5" y="651.5" width="8" height="8" fill="#fff" stroke="#1e3cff"/>
<rect x="668.5" y="683.5" width="8" height="8" fill="#fff" stroke="#1e3cff"/>
<rect x="676.5" y="677.5" width="8" height="8" fill="#fff" stroke="#1e3cff"/>
<rect x="685.5" y="678.5" width="8" height="8" fill="#fff" stroke="#1e3cff"/>
<rect x="694.5" y="685.5" width="8" height="8" fill="#fff" stroke="#1e3cff"/>
<rect x="702.5" y="689.5" width="8" height="8" fill="#fff" stroke="#1e3cff"/>
<rect x="711.5" y="690.5" width="8" height="8" fill="#fff" stroke="#1e3cff"/>
<rect x="719.5" y="619.5" width="8" height="8" fill="#fff" stroke="#1e3cff"/>
<rect x="728.5" y="636.5" width="8" height="8" fill="#fff" stroke="#1e3cff"/>
<rect x="737.5" y="607.5" width="8" height="8" fill="#fff" stroke="#1e3cff"/>
<rect x="745.5" y="615.5" width="8" height="8" fill="#fff" stroke="#1e3cff"/>
<rect x="754.5" y="623.5" width="8" height="8" fill="#fff" stroke="#1e3cff"/>
<rect x="763.5" y="617.5" width="8" height="8" fill="#fff" stroke="#1e3cff"/>
<rect x="771.5" y="600.5" width="8" height="8" fill="#fff" stroke="#1e3cff"/>
<rect x="780.5" y="657.5" width="8" height="8" fill="#fff" stroke="#1e3cff"/>
<rect x="788.5" y="671.5" width="8" height="8" fill="#fff" stroke="#1e3cff"/>
<rect x="797.5" y="676.5" width="8" height="8" fill="#fff" stroke="#1e3cff"/>
<rect x="806.5" y="699.5" width="8" height="8" fill="#fff" stroke="#1e3cff"/>
<rect x="814.5" y="636.5" width="8" height="8" fill="#fff" stroke="#1e3cff"/>
<rect x="823.5" y="648.5" width="8" height="8" fill="#fff" stroke="#1e3cff"/>
<rect x="831.5" y="698.5" width="8" height="8" fill="#fff" stroke="#1e3cff"/>
<rect x="840.5" y="656.5" width="8" height="8" fill="#fff" stroke="#1e3cff"/>
<rect x="849.5" y="632.5" width="8" height="8" fill="#fff" stroke="#1e3cff"/>
<rect x="857.5" y="652.5" width="8" height="8" fill="#fff" stroke="#1e3cff"/>
<rect x="866.5" y="653.5" width="8" height="8" fill="#fff" stroke="#1e3cff"/>
<rect x="874.5" y="663.5" width="8" height="8" fill="#fff" stroke="#1e3cff"/>
<rect x="883.5" y="679.5" width="8" height="8" fill="#fff" stroke="#1e3cff"/>
<rect x="892.5" y="706.5" width="8" height="8" fill="#fff" stroke="#1e3cff"/>
<rect x="900.5" y="672.5" width="8" height="8" fill="#fff" stroke="#1e3cff"/>
<rect x="909.5" y="646.5" width="8" height="8" fill="#fff" stroke="#1e3cff"/>
<rect x="917.5" y="673.5" width="8" height="8" fill="#fff" stroke="#1e3cff"/>
<rect x="926.5" y="673.5" width="8" height="8" fill="#fff" stroke="#1e3cff"/>
<rect x="935.5" y="586.5" width="8" height="8" fill="#fff" stroke="#1e3cff"/>
<rect x="943.5" y="592.5" width="8" height="8" fill="#fff" stroke="#1e3cff"/>
<rect x="952.5" y="668.5" width="8" height="8" fill="#fff" stroke="#1e3cff"/>
<rect x="960.5" y="664.5" width="8" height="8" fill="#fff" stroke="#1e3cff"/>
<rect x="969.5" y="681.5" width="8" height="8" fill="#fff" stroke="#1e3cff"/>
<rect x="978.5" y="679.5" width="8" height="8" fill="#fff" stroke="#1e3cff"/>
<rect x="986.5" y="664.5" width="8" height="8" fill="#fff" stroke="#1e3cff"/>
<rect x="995.5" y="670.5" width="8" height="8" fill="#fff" stroke="#1e3cff"/>
<rect x="1004.5" y="689.5" width="8" height="8" fill="#fff" stroke="#1e3cff"/>
<rect x="1012.5" y="681.5" width="8" height="8" fill="#fff" stroke="#1e3cff"/>
<rect x="1021.5" y="654.5" width="8" height="8" fill="#fff" stroke="#1e3cff"/>
<rect x="1029.5" y="683.5" width="8" height="8" fill="#fff" stroke="#1e3cff"/>
<rect x="1038.5" y="654.5" width="8" height="8" fill="#fff" stroke="#1e3cff"/>
<rect x="1047.5" y="689.5" width="8" height="8" fill="#fff" stroke="#1e3cff"/>
</g>
<path d="M216 453.5H1051 M216 474.5H1051 M216 496.5H1051 M216 517.5H1051 M216 539.5H1051 M216 560.5H1051 M216 582.5H1051 M216 604.5H1051 M216 625.5H1051 M216 647.5H1051 M216 668.5H1051 M216 690.5H1051 M216 711.5H1051 M216 733.5H1051 M216 754.5H1051 M216 776.5H1051" fill="none" stroke="#7d7d7d" stroke-width="1" stroke-dasharray="2 6.836" shape-rendering="crispEdges"/>
<path d="M276.5 777.0V452.0 M405.5 777.0V452.0 M534.5 777.0V452.0 M672.5 777.0V452.0 M801.5 777.0V452.0 M930.5 777.0V452.0" fill="none" stroke="#7d7d7d" stroke-width="1" stroke-dasharray="2 6.836" shape-rendering="crispEdges"/>
<path class="t" d="M197.03 451.83 L196.60 453.26 L195.74 454.21 L194.44 454.69 L194.01 454.69 L192.71 454.21 L191.85 453.26 L191.42 451.83 L191.42 451.36 L191.85 449.93 L192.71 448.98 L194.01 448.50 L194.44 448.50 L195.74 448.98 L196.60 449.93 L197.03 451.83 L197.03 454.21 L196.60 456.60 L195.74 458.02 L194.44 458.50 L193.58 458.50 L192.28 458.02 L191.85 457.07 M202.65 448.50 L201.35 448.98 L200.49 450.40 L200.06 452.79 L200.06 454.21 L200.49 456.60 L201.35 458.02 L202.65 458.50 L203.51 458.50 L204.81 458.02 L205.67 456.60 L206.10 454.21 L206.10 452.79 L205.67 450.40 L204.81 448.98 L203.51 448.50 L202.65 448.50" stroke="#000" stroke-width="1.0" />
<path class="t" d="M193.58 469.50 L192.28 469.98 L191.85 470.93 L191.85 471.88 L192.28 472.83 L193.14 473.31 L194.87 473.79 L196.17 474.26 L197.03 475.21 L197.46 476.17 L197.46 477.60 L197.03 478.55 L196.60 479.02 L195.30 479.50 L193.58 479.50 L192.28 479.02 L191.85 478.55 L191.42 477.60 L191.42 476.17 L191.85 475.21 L192.71 474.26 L194.01 473.79 L195.74 473.31 L196.60 472.83 L197.03 471.88 L197.03 470.93 L196.60 469.98 L195.30 469.50 L193.58 469.50 M205.24 469.50 L200.92 469.50 L200.49 473.79 L200.92 473.31 L202.22 472.83 L203.51 472.83 L204.81 473.31 L205.67 474.26 L206.10 475.69 L206.10 476.64 L205.67 478.07 L204.81 479.02 L203.51 479.50 L202.22 479.50 L200.92 479.02 L200.49 478.55 L200.06 477.60" stroke="#000" stroke-width="1.0" />
<path class="t" d="M193.58 491.50 L192.28 491.98 L191.85 492.93 L191.85 493.88 L192.28 494.83 L193.14 495.31 L194.87 495.79 L196.17 496.26 L197.03 497.21 L197.46 498.17 L197.46 499.60 L197.03 500.55 L196.60 501.02 L195.30 501.50 L193.58 501.50 L192.28 501.02 L191.85 500.55 L191.42 499.60 L191.42 498.17 L191.85 497.21 L192.71 496.26 L194.01 495.79 L195.74 495.31 L196.60 494.83 L197.03 493.88 L197.03 492.93 L196.60 491.98 L195.30 491.50 L193.58 491.50 M202.65 491.50 L201.35 491.98 L200.49 493.40 L200.06 495.79 L200.06 497.21 L200.49 499.60 L201.35 501.02 L202.65 501.50 L203.51 501.50 L204.81 501.02 L205.67 499.60 L206.10 497.21 L206.10 495.79 L205.67 493.40 L204.81 491.98 L203.51 491.50 L202.65 491.50" stroke="#000" stroke-width="1.0" />
<path class="t" d="M197.46 512.50 L193.14 522.50 M191.42 512.50 L197.46 512.50 M205.24 512.50 L200.92 512.50 L200.49 516.79 L200.92 516.31 L202.22 515.83 L203.51 515.83 L204.81 516.31 L205.67 517.26 L206.10 518.69 L206.10 519.64 L205.67 521.07 L204.81 522.02 L203.51 522.50 L202.22 522.50 L200.92 522.02 L200.49 521.55 L200.06 520.60" stroke="#000" stroke-width="1.0" />
<path class="t" d="M197.46 534.50 L193.14 544.50 M191.42 534.50 L197.46 534.50 M202.65 534.50 L201.35 534.98 L200.49 536.40 L200.06 538.79 L200.06 540.21 L200.49 542.60 L201.35 544.02 L202.65 544.50 L203.51 544.50 L204.81 544.02 L205.67 542.60 L206.10 540.21 L206.10 538.79 L205.67 536.40 L204.81 534.98 L203.51 534.50 L202.65 534.50" stroke="#000" stroke-width="1.0" />
<path class="t" d="M197.03 556.93 L196.60 555.98 L195.30 555.50 L194.44 555.50 L193.14 555.98 L192.28 557.40 L191.85 559.79 L191.85 562.17 L192.28 564.07 L193.14 565.02 L194.44 565.50 L194.87 565.50 L196.17 565.02 L197.03 564.07 L197.46 562.64 L197.46 562.17 L197.03 560.74 L196.17 559.79 L194.87 559.31 L194.44 559.31 L193.14 559.79 L192.28 560.74 L191.85 562.17 M205.24 555.50 L200.92 555.50 L200.49 559.79 L200.92 559.31 L202.22 558.83 L203.51 558.83 L204.81 559.31 L205.67 560.26 L206.10 561.69 L206.10 562.64 L205.67 564.07 L204.81 565.02 L203.51 565.50 L202.22 565.50 L200.92 565.02 L200.49 564.55 L200.06 563.60" stroke="#000" stroke-width="1.0" />
<path class="t" d="M197.03 578.93 L196.60 577.98 L195.30 577.50 L194.44 577.50 L193.14 577.98 L192.28 579.40 L191.85 581.79 L191.85 584.17 L192.28 586.07 L193.14 587.02 L194.44 587.50 L194.87 587.50 L196.17 587.02 L197.03 586.07 L197.46 584.64 L197.46 584.17 L197.03 582.74 L196.17 581.79 L194.87 581.31 L194.44 581.31 L193.14 581.79 L192.28 582.74 L191.85 584.17 M202.65 577.50 L201.35 577.98 L200.49 579.40 L200.06 581.79 L200.06 583.21 L200.49 585.60 L201.35 587.02 L202.65 587.50 L203.51 587.50 L204.81 587.02 L205.67 585.60 L206.10 583.21 L206.10 581.79 L205.67 579.40 L204.81 577.98 L203.51 577.50 L202.65 577.50" stroke="#000" stroke-width="1.0" />
<path class="t" d="M196.60 599.50 L192.28 599.50 L191.85 603.79 L192.28 603.31 L193.58 602.83 L194.87 602.83 L196.17 603.31 L197.03 604.26 L197.46 605.69 L197.46 606.64 L197.03 608.07 L196.17 609.02 L194.87 609.50 L193.58 609.50 L192.28 609.02 L191.85 608.55 L191.42 607.60 M205.24 599.50 L200.92 599.50 L200.49 603.79 L200.92 603.31 L202.22 602.83 L203.51 602.83 L204.81 603.31 L205.67 604.26 L206.10 605.69 L206.10 606.64 L205.67 608.07 L204.81 609.02 L203.51 609.50 L202.22 609.50 L200.92 609.02 L200.49 608.55 L200.06 607.60" stroke="#000" stroke-width="1.0" />
<path class="t" d="M196.60 620.50 L192.28 620.50 L191.85 624.79 L192.28 624.31 L193.58 623.83 L194.87 623.83 L196.17 624.31 L197.03 625.26 L197.46 626.69 L197.46 627.64 L197.03 629.07 L196.17 630.02 L194.87 630.50 L193.58 630.50 L192.28 630.02 L191.85 629.55 L191.42 628.60 M202.65 620.50 L201.35 620.98 L200.49 622.40 L200.06 624.79 L200.06 626.21 L200.49 628.60 L201.35 630.02 L202.65 630.50 L203.51 630.50 L204.81 630.02 L205.67 628.60 L206.10 626.21 L206.10 624.79 L205.67 622.40 L204.81 620.98 L203.51 620.50 L202.65 620.50" stroke="#000" stroke-width="1.0" />
<path class="t" d="M195.74 642.50 L191.42 649.17 L197.90 649.17 M195.74 642.50 L195.74 652.50 M205.24 642.50 L200.92 642.50 L200.49 646.79 L200.92 646.31 L202.22 645.83 L203.51 645.83 L204.81 646.31 L205.67 647.26 L206.10 648.69 L206.10 649.64 L205.67 651.07 L204.81 652.02 L203.51 652.50 L202.22 652.50 L200.92 652.02 L200.49 651.55 L200.06 650.60" stroke="#000" stroke-width="1.0" />
<path class="t" d="M195.74 663.50 L191.42 670.17 L197.90 670.17 M195.74 663.50 L195.74 673.50 M202.65 663.50 L201.35 663.98 L200.49 665.40 L200.06 667.79 L200.06 669.21 L200.49 671.60 L201.35 673.02 L202.65 673.50 L203.51 673.50 L204.81 673.02 L205.67 671.60 L206.10 669.21 L206.10 667.79 L205.67 665.40 L204.81 663.98 L203.51 663.50 L202.65 663.50" stroke="#000" stroke-width="1.0" />
<path class="t" d="M192.28 685.50 L197.03 685.50 L194.44 689.31 L195.74 689.31 L196.60 689.79 L197.03 690.26 L197.46 691.69 L197.46 692.64 L197.03 694.07 L196.17 695.02 L194.87 695.50 L193.58 695.50 L192.28 695.02 L191.85 694.55 L191.42 693.60 M205.24 685.50 L200.92 685.50 L200.49 689.79 L200.92 689.31 L202.22 688.83 L203.51 688.83 L204.81 689.31 L205.67 690.26 L206.10 691.69 L206.10 692.64 L205.67 694.07 L204.81 695.02 L203.51 695.50 L202.22 695.50 L200.92 695.02 L200.49 694.55 L200.06 693.60" stroke="#000" stroke-width="1.0" />
<path class="t" d="M192.28 706.50 L197.03 706.50 L194.44 710.31 L195.74 710.31 L196.60 710.79 L197.03 711.26 L197.46 712.69 L197.46 713.64 L197.03 715.07 L196.17 716.02 L194.87 716.50 L193.58 716.50 L192.28 716.02 L191.85 715.55 L191.42 714.60 M202.65 706.50 L201.35 706.98 L200.49 708.40 L200.06 710.79 L200.06 712.21 L200.49 714.60 L201.35 716.02 L202.65 716.50 L203.51 716.50 L204.81 716.02 L205.67 714.60 L206.10 712.21 L206.10 710.79 L205.67 708.40 L204.81 706.98 L203.51 706.50 L202.65 706.50" stroke="#000" stroke-width="1.0" />
<path class="t" d="M191.85 730.88 L191.85 730.40 L192.28 729.45 L192.71 728.98 L193.58 728.50 L195.30 728.50 L196.17 728.98 L196.60 729.45 L197.03 730.40 L197.03 731.36 L196.60 732.31 L195.74 733.74 L191.42 738.50 L197.46 738.50 M205.24 728.50 L200.92 728.50 L200.49 732.79 L200.92 732.31 L202.22 731.83 L203.51 731.83 L204.81 732.31 L205.67 733.26 L206.10 734.69 L206.10 735.64 L205.67 737.07 L204.81 738.02 L203.51 738.50 L202.22 738.50 L200.92 738.02 L200.49 737.55 L200.06 736.60" stroke="#000" stroke-width="1.0" />
<path class="t" d="M191.85 751.88 L191.85 751.40 L192.28 750.45 L192.71 749.98 L193.58 749.50 L195.30 749.50 L196.17 749.98 L196.60 750.45 L197.03 751.40 L197.03 752.36 L196.60 753.31 L195.74 754.74 L191.42 759.50 L197.46 759.50 M202.65 749.50 L201.35 749.98 L200.49 751.40 L200.06 753.79 L200.06 755.21 L200.49 757.60 L201.35 759.02 L202.65 759.50 L203.51 759.50 L204.81 759.02 L205.67 757.60 L206.10 755.21 L206.10 753.79 L205.67 751.40 L204.81 749.98 L203.51 749.50 L202.65 749.50" stroke="#000" stroke-width="1.0" />
<path class="t" d="M192.71 773.40 L193.58 772.93 L194.87 771.50 L194.87 781.50 M205.24 771.50 L200.92 771.50 L200.49 775.79 L200.92 775.31 L202.22 774.83 L203.51 774.83 L204.81 775.31 L205.67 776.26 L206.10 777.69 L206.10 778.64 L205.67 780.07 L204.81 781.02 L203.51 781.50 L202.22 781.50 L200.92 781.02 L200.49 780.55 L200.06 779.60" stroke="#000" stroke-width="1.0" />
<path class="t" d="M257.09 786.40 L257.96 785.93 L259.25 784.50 L259.25 794.50 M270.05 785.93 L269.62 784.98 L268.32 784.50 L267.46 784.50 L266.16 784.98 L265.30 786.40 L264.87 788.79 L264.87 791.17 L265.30 793.07 L266.16 794.02 L267.46 794.50 L267.89 794.50 L269.19 794.02 L270.05 793.07 L270.48 791.64 L270.48 791.17 L270.05 789.74 L269.19 788.79 L267.89 788.31 L267.46 788.31 L266.16 788.79 L265.30 789.74 L264.87 791.17 M279.12 785.93 L278.26 784.98 L276.96 784.50 L275.24 784.50 L273.94 784.98 L273.08 785.93 L273.08 786.88 L273.51 787.83 L273.94 788.31 L274.80 788.79 L277.40 789.74 L278.26 790.21 L278.69 790.69 L279.12 791.64 L279.12 793.07 L278.26 794.02 L276.96 794.50 L275.24 794.50 L273.94 794.02 L273.08 793.07 M282.15 784.50 L282.15 794.50 M282.15 784.50 L287.76 784.50 M282.15 789.26 L285.60 789.26 M282.15 794.50 L287.76 794.50 M290.36 784.50 L290.36 794.50 M290.36 784.50 L294.24 784.50 L295.54 784.98 L295.97 785.45 L296.40 786.40 L296.40 787.83 L295.97 788.79 L295.54 789.26 L294.24 789.74 L290.36 789.74" stroke="#000" stroke-width="1.0" />
<path class="t" d="M390.63 786.40 L391.49 785.93 L392.79 784.50 L392.79 794.50 M400.56 784.50 L399.70 784.98 L398.84 785.93 L398.40 786.88 L397.97 788.31 L397.97 790.69 L398.40 792.12 L398.84 793.07 L399.70 794.02 L400.56 794.50 L402.29 794.50 L403.16 794.02 L404.02 793.07 L404.45 792.12 L404.88 790.69 L404.88 788.31 L404.45 786.88 L404.02 785.93 L403.16 784.98 L402.29 784.50 L400.56 784.50 M413.96 786.88 L413.52 785.93 L412.66 784.98 L411.80 784.50 L410.07 784.50 L409.20 784.98 L408.34 785.93 L407.91 786.88 L407.48 788.31 L407.48 790.69 L407.91 792.12 L408.34 793.07 L409.20 794.02 L410.07 794.50 L411.80 794.50 L412.66 794.02 L413.52 793.07 L413.96 792.12 M418.71 784.50 L418.71 794.50 M415.68 784.50 L421.73 784.50" stroke="#000" stroke-width="1.0" />
<path class="t" d="M515.31 786.40 L516.17 785.93 L517.47 784.50 L517.47 794.50 M528.27 785.93 L527.84 784.98 L526.54 784.50 L525.68 784.50 L524.38 784.98 L523.52 786.40 L523.08 788.79 L523.08 791.17 L523.52 793.07 L524.38 794.02 L525.68 794.50 L526.11 794.50 L527.40 794.02 L528.27 793.07 L528.70 791.64 L528.70 791.17 L528.27 789.74 L527.40 788.79 L526.11 788.31 L525.68 788.31 L524.38 788.79 L523.52 789.74 L523.08 791.17 M533.88 784.50 L533.02 784.98 L532.16 785.93 L531.72 786.88 L531.29 788.31 L531.29 790.69 L531.72 792.12 L532.16 793.07 L533.02 794.02 L533.88 794.50 L535.61 794.50 L536.48 794.02 L537.34 793.07 L537.77 792.12 L538.20 790.69 L538.20 788.31 L537.77 786.88 L537.34 785.93 L536.48 784.98 L535.61 784.50 L533.88 784.50 M547.28 786.88 L546.84 785.93 L545.98 784.98 L545.12 784.50 L543.39 784.50 L542.52 784.98 L541.66 785.93 L541.23 786.88 L540.80 788.31 L540.80 790.69 L541.23 792.12 L541.66 793.07 L542.52 794.02 L543.39 794.50 L545.12 794.50 L545.98 794.02 L546.84 793.07 L547.28 792.12 M552.03 784.50 L552.03 794.50 M549.00 784.50 L555.05 784.50" stroke="#000" stroke-width="1.0" />
<path class="t" d="M656.98 786.40 L657.84 785.93 L659.14 784.50 L659.14 794.50 M664.76 784.50 L664.76 794.50 M664.76 784.50 L670.80 794.50 M670.80 784.50 L670.80 794.50 M676.42 784.50 L675.56 784.98 L674.69 785.93 L674.26 786.88 L673.83 788.31 L673.83 790.69 L674.26 792.12 L674.69 793.07 L675.56 794.02 L676.42 794.50 L678.15 794.50 L679.01 794.02 L679.88 793.07 L680.31 792.12 L680.74 790.69 L680.74 788.31 L680.31 786.88 L679.88 785.93 L679.01 784.98 L678.15 784.50 L676.42 784.50 M682.47 784.50 L685.92 794.50 M689.38 784.50 L685.92 794.50" stroke="#000" stroke-width="1.0" />
<path class="t" d="M781.66 786.40 L782.52 785.93 L783.82 784.50 L783.82 794.50 M794.62 785.93 L794.19 784.98 L792.89 784.50 L792.03 784.50 L790.73 784.98 L789.87 786.40 L789.44 788.79 L789.44 791.17 L789.87 793.07 L790.73 794.02 L792.03 794.50 L792.46 794.50 L793.76 794.02 L794.62 793.07 L795.05 791.64 L795.05 791.17 L794.62 789.74 L793.76 788.79 L792.46 788.31 L792.03 788.31 L790.73 788.79 L789.87 789.74 L789.44 791.17 M798.08 784.50 L798.08 794.50 M798.08 784.50 L804.12 794.50 M804.12 784.50 L804.12 794.50 M809.74 784.50 L808.88 784.98 L808.01 785.93 L807.58 786.88 L807.15 788.31 L807.15 790.69 L807.58 792.12 L808.01 793.07 L808.88 794.02 L809.74 794.50 L811.47 794.50 L812.33 794.02 L813.20 793.07 L813.63 792.12 L814.06 790.69 L814.06 788.31 L813.63 786.88 L813.20 785.93 L812.33 784.98 L811.47 784.50 L809.74 784.50 M815.79 784.50 L819.24 794.50 M822.70 784.50 L819.24 794.50" stroke="#000" stroke-width="1.0" />
<path class="t" d="M915.20 786.40 L916.06 785.93 L917.36 784.50 L917.36 794.50 M922.97 784.50 L922.97 794.50 M922.97 784.50 L926.00 784.50 L927.29 784.98 L928.16 785.93 L928.59 786.88 L929.02 788.31 L929.02 790.69 L928.59 792.12 L928.16 793.07 L927.29 794.02 L926.00 794.50 L922.97 794.50 M932.04 784.50 L932.04 794.50 M932.04 784.50 L937.66 784.50 M932.04 789.26 L935.50 789.26 M932.04 794.50 L937.66 794.50 M946.30 786.88 L945.87 785.93 L945.00 784.98 L944.14 784.50 L942.41 784.50 L941.55 784.98 L940.68 785.93 L940.25 786.88 L939.82 788.31 L939.82 790.69 L940.25 792.12 L940.68 793.07 L941.55 794.02 L942.41 794.50 L944.14 794.50 L945.00 794.02 L945.87 793.07 L946.30 792.12" stroke="#000" stroke-width="1.0" />
<path class="t" d="M261.25 801.88 L261.25 801.40 L261.68 800.45 L262.11 799.98 L262.98 799.50 L264.70 799.50 L265.57 799.98 L266.00 800.45 L266.43 801.40 L266.43 802.36 L266.00 803.31 L265.14 804.74 L260.82 809.50 L266.86 809.50 M272.05 799.50 L270.75 799.98 L269.89 801.40 L269.46 803.79 L269.46 805.21 L269.89 807.60 L270.75 809.02 L272.05 809.50 L272.91 809.50 L274.21 809.02 L275.07 807.60 L275.50 805.21 L275.50 803.79 L275.07 801.40 L274.21 799.98 L272.91 799.50 L272.05 799.50 M280.69 799.50 L279.39 799.98 L278.53 801.40 L278.10 803.79 L278.10 805.21 L278.53 807.60 L279.39 809.02 L280.69 809.50 L281.55 809.50 L282.85 809.02 L283.71 807.60 L284.14 805.21 L284.14 803.79 L283.71 801.40 L282.85 799.98 L281.55 799.50 L280.69 799.50 M292.35 800.93 L291.92 799.98 L290.62 799.50 L289.76 799.50 L288.46 799.98 L287.60 801.40 L287.17 803.79 L287.17 806.17 L287.60 808.07 L288.46 809.02 L289.76 809.50 L290.19 809.50 L291.49 809.02 L292.35 808.07 L292.78 806.64 L292.78 806.17 L292.35 804.74 L291.49 803.79 L290.19 803.31 L289.76 803.31 L288.46 803.79 L287.60 804.74 L287.17 806.17" stroke="#000" stroke-width="1.0" />
<path class="t" d="M0.00 0.00 L0.00 18.40 M0.00 0.00 L7.21 0.00 L9.61 0.88 L10.41 1.75 L11.21 3.50 L11.21 5.26 L10.41 7.01 L9.61 7.89 L7.21 8.76 L0.00 8.76 M5.60 8.76 L11.21 18.40 M16.81 0.00 L16.81 18.40 M16.81 0.00 L23.22 18.40 M29.62 0.00 L23.22 18.40 M29.62 0.00 L29.62 18.40 M46.43 2.63 L44.83 0.88 L42.43 0.00 L39.23 0.00 L36.83 0.88 L35.23 2.63 L35.23 4.38 L36.03 6.13 L36.83 7.01 L38.43 7.89 L43.23 9.64 L44.83 10.51 L45.63 11.39 L46.43 13.14 L46.43 15.77 L44.83 17.52 L42.43 18.40 L39.23 18.40 L36.83 17.52 L35.23 15.77 M64.05 11.39 L73.66 11.39 L73.66 9.64 L72.85 7.89 L72.05 7.01 L70.45 6.13 L68.05 6.13 L66.45 7.01 L64.85 8.76 L64.05 11.39 L64.05 13.14 L64.85 15.77 L66.45 17.52 L68.05 18.40 L70.45 18.40 L72.05 17.52 L73.66 15.77 M79.26 6.13 L79.26 18.40 M79.26 11.39 L80.06 8.76 L81.66 7.01 L83.26 6.13 L85.66 6.13 M89.67 6.13 L89.67 18.40 M89.67 11.39 L90.47 8.76 L92.07 7.01 L93.67 6.13 L96.07 6.13 M103.28 6.13 L101.68 7.01 L100.07 8.76 L99.27 11.39 L99.27 13.14 L100.07 15.77 L101.68 17.52 L103.28 18.40 L105.68 18.40 L107.28 17.52 L108.88 15.77 L109.68 13.14 L109.68 11.39 L108.88 8.76 L107.28 7.01 L105.68 6.13 L103.28 6.13 M115.29 6.13 L115.29 18.40 M115.29 11.39 L116.09 8.76 L117.69 7.01 L119.29 6.13 L121.69 6.13 M133.70 8.76 L132.90 7.01 L130.50 6.13 L128.10 6.13 L125.69 7.01 L124.89 8.76 L125.69 10.51 L127.30 11.39 L131.30 12.27 L132.90 13.14 L133.70 14.90 L133.70 15.77 L132.90 17.52 L130.50 18.40 L128.10 18.40 L125.69 17.52 L124.89 15.77" stroke="#000" stroke-width="1.8" transform="translate(155.9 681.4) rotate(-90)"/>
</svg></body></html>
